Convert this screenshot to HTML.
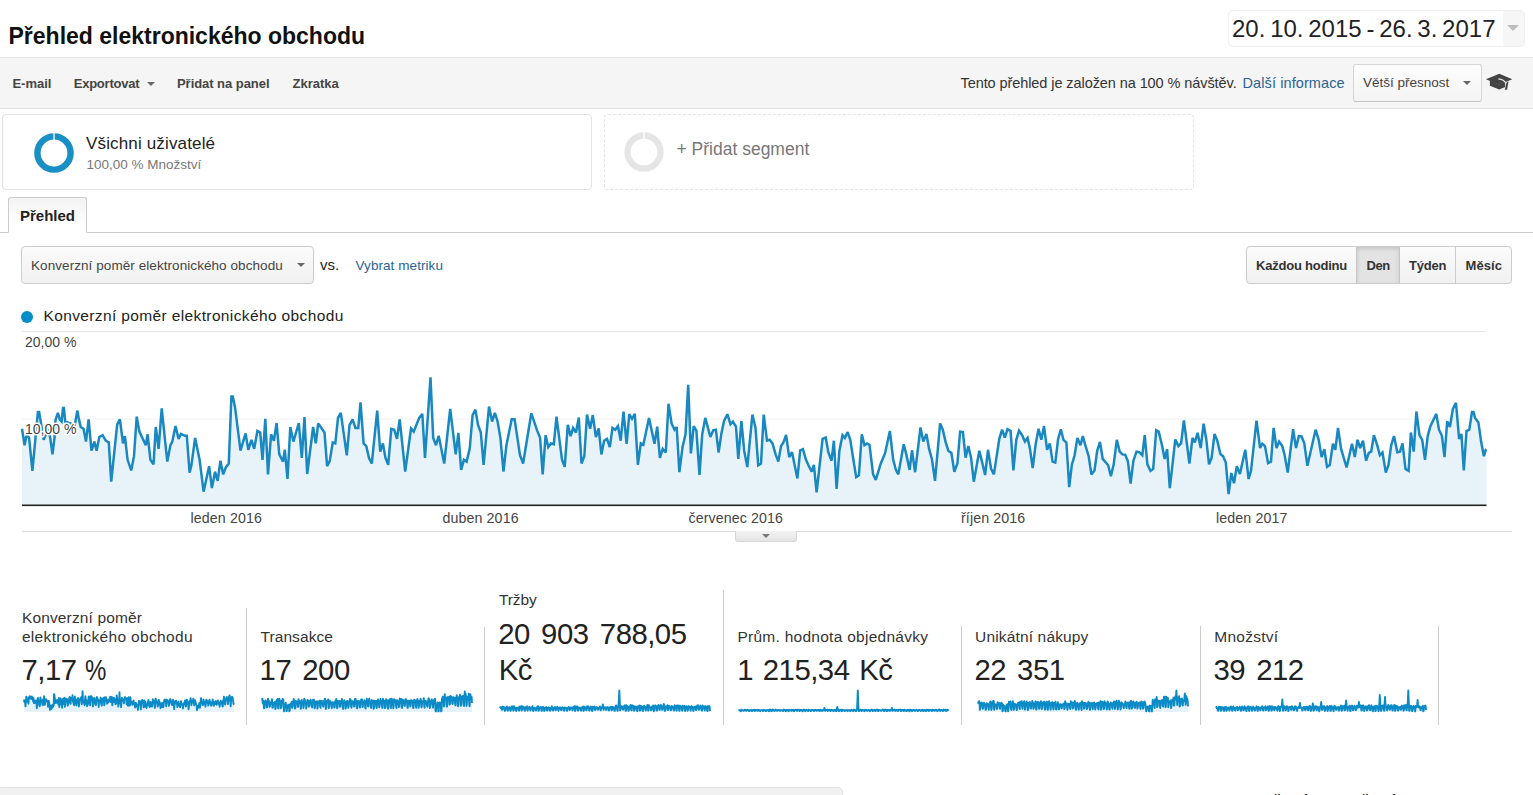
<!DOCTYPE html>
<html lang="cs">
<head>
<meta charset="utf-8">
<title>Přehled elektronického obchodu</title>
<style>
*{box-sizing:border-box;margin:0;padding:0}
html,body{width:1533px;height:795px;overflow:hidden;background:#fff}
body{font-family:"Liberation Sans",sans-serif;color:#222;position:relative;-webkit-font-smoothing:antialiased}
.a{position:absolute;white-space:nowrap;line-height:1}
.b{font-weight:bold}
#title{left:8.5px;top:24.8px;font-size:23px;font-weight:bold;color:#111;letter-spacing:0}
#datebox{left:1228px;top:10px;width:297px;height:37px;border:1px solid #efefef;border-radius:5px;background:#fff}
#datearrowbg{left:1503px;top:11px;width:21px;height:35px;background:#f6f6f6;border-radius:0 4px 4px 0}
#date{left:1232px;top:16.6px;font-size:24px;color:#222;letter-spacing:0;word-spacing:-1.9px}
#datearrow{left:1507px;top:25px;width:0;height:0;border-left:6.5px solid transparent;border-right:6.5px solid transparent;border-top:6.5px solid #bdbdbd}
#hline{left:0;top:57px;width:1533px;height:1px;background:#e5e5e5}
#toolbar{left:0;top:58px;width:1533px;height:51px;background:#f5f5f5;border-bottom:1px solid #e2e2e2}
.tb{font-size:13px;font-weight:bold;color:#444;top:76.8px}
#tinfo{left:960.5px;top:75.5px;font-size:14.5px;color:#333;letter-spacing:-0.08px}
#tlink{left:1242.5px;top:75.5px;font-size:14.5px;color:#2a6496;letter-spacing:0.1px}
#prec{left:1353px;top:64px;width:129px;height:38px;border:1px solid #d6d6d6;border-bottom-color:#c4c4c4;border-radius:3px;background:linear-gradient(#fdfdfd,#f4f4f4)}
#prect{left:1363px;top:76.4px;font-size:13.5px;color:#444}
.caret{width:0;height:0;border-left:4.5px solid transparent;border-right:4.5px solid transparent;border-top:4.5px solid #666}
#seg1{left:2px;top:114px;width:590px;height:76px;border:1px solid #e2e2e2;border-radius:4px;background:#fff}
#seg2{left:604px;top:114px;width:590px;height:76px;border:1px dashed #e4e4e4;border-radius:4px;background:#fff}
#s1a{left:86px;top:135.1px;font-size:17px;color:#222;letter-spacing:0.15px}
#s1b{left:86.5px;top:157.6px;font-size:13.5px;color:#777}
#s2a{left:676.5px;top:141.2px;font-size:17.5px;color:#777}
#tabline{left:0;top:232px;width:1533px;height:1px;background:#ccc}
#tab{left:8px;top:197px;width:79px;height:36px;border:1px solid #ccc;border-bottom:1px solid #fff;border-radius:3px 3px 0 0;background:linear-gradient(#f3f3f3,#fff 80%)}
#tabt{left:20px;top:207.9px;font-size:15px;font-weight:bold;color:#222}
#dd{left:21px;top:246px;width:293px;height:38px;border:1px solid #ccc;border-radius:4px;background:linear-gradient(#fbfbfb,#f1f1f1)}
#ddt{left:31px;top:258.8px;font-size:13.5px;color:#444;letter-spacing:0.07px}
#vs{left:320px;top:256.9px;font-size:15px;color:#222}
#vm{left:355.5px;top:258.8px;font-size:13.5px;color:#2a6496;letter-spacing:0.07px}
#bg{left:1246px;top:246px;width:266px;height:38px;border:1px solid #ccc;border-radius:4px;background:linear-gradient(#fbfbfb,#f1f1f1)}
#bgden{left:1356px;top:247px;width:44px;height:36px;background:#e3e3e3;border-left:1px solid #c6c6c6;border-right:1px solid #c6c6c6;box-shadow:inset 0 2px 4px rgba(0,0,0,.13)}
#bgs2{left:1455px;top:247px;width:1px;height:36px;background:#ccc}
.bt{font-size:13px;font-weight:bold;color:#333;top:259.3px}
#legdot{left:21px;top:310.5px;width:12px;height:12px;border-radius:50%;background:#058dc7}
#legt{left:43.5px;top:307.6px;font-size:15.5px;color:#222;letter-spacing:0.37px}
.yl{font-size:14px;color:#444;letter-spacing:0.05px;text-shadow:0 0 2px #fff,0 0 2px #fff,0 0 3px #fff,1px 1px 1px #fff,-1px -1px 1px #fff}
.xl{font-size:14.2px;color:#444;top:510.8px;letter-spacing:0.12px}
#chart{left:0;top:300px}
#botline{left:22px;top:531px;width:1490px;height:1px;background:#ddd}
#handle{left:735px;top:531px;width:62px;height:11px;background:linear-gradient(#f4f4f4,#e4e4e4);border:1px solid #d8d8d8;border-top:none;border-radius:0 0 3px 3px}
.ml{font-size:15.5px;color:#333}
.mv{font-size:29.3px;color:#222}
.pc{display:inline-block;transform:scaleX(.82);transform-origin:0 50%}
.ms{width:1px;background:#ccc}
#botbox{left:-3px;top:787px;width:845.7px;height:24px;background:#f1f1f1;border:1px solid #e1e1e1;border-radius:5px}
.q{font-size:15px;font-weight:bold;color:#222;top:791.6px}
</style>
</head>
<body>
<div class="a" id="title">Přehled elektronického obchodu</div>
<div class="a" id="datebox"></div><div class="a" id="datearrowbg"></div>
<div class="a" id="date">20. 10. 2015 - 26. 3. 2017</div>
<div class="a" id="datearrow"></div>
<div class="a" id="hline"></div>
<div class="a" id="toolbar"></div>
<div class="a tb" id="t1" style="left:12.4px">E-mail</div>
<div class="a tb" id="t2" style="left:73.7px;letter-spacing:-0.22px">Exportovat</div>
<div class="a caret" id="t2c" style="left:146.5px;top:81.5px"></div>
<div class="a tb" id="t3" style="left:177px;letter-spacing:-0.05px">Přidat na panel</div>
<div class="a tb" id="t4" style="left:292.5px">Zkratka</div>
<div class="a" id="tinfo">Tento přehled je založen na 100 % návštěv.</div>
<div class="a" id="tlink">Další informace</div>
<div class="a" id="prec"></div>
<div class="a" id="prect">Větší přesnost</div>
<div class="a caret" id="precc" style="left:1463px;top:81px"></div>
<svg class="a" id="cap" style="left:1484.9px;top:72.14px" width="28.52" height="18.81" viewBox="740 200 470 310"><path d="M755 320 L975 228 L1190 320 L975 412 Z" fill="#444"/><path d="M820 335 L820 428 L975 488 L1072 448 L1072 360 L975 405 Z" fill="#444"/><path d="M960 312 Q1050 320 1092 392" stroke="#e8e8e8" stroke-width="20" fill="none"/><path d="M1096 372 L1128 352 L1104 492 L1066 492 Z" fill="#444"/></svg>
<div class="a" id="seg1"></div>
<div class="a" id="seg2"></div>
<svg class="a" id="c1" style="left:31.5px;top:130.6px" width="44" height="44" viewBox="0 0 44 44"><circle cx="22" cy="22" r="16.6" fill="none" stroke="#1a8fc5" stroke-width="6.4"/><rect x="21.4" y="1" width="1.3" height="9" fill="#fff"/></svg>
<svg class="a" id="c2" style="left:622.3px;top:130.1px" width="44" height="44" viewBox="0 0 44 44"><circle cx="22" cy="22" r="16.5" fill="none" stroke="#e5e5e5" stroke-width="6.3"/><rect x="21.4" y="1" width="1.3" height="9" fill="#fff"/></svg>
<div class="a" id="s1a">Všichni uživatelé</div>
<div class="a" id="s1b">100,00 % Množství</div>
<div class="a" id="s2a">+ Přidat segment</div>
<div class="a" id="tabline"></div>
<div class="a" id="tab"></div>
<div class="a" id="tabt">Přehled</div>
<div class="a" id="dd"></div>
<div class="a" id="ddt">Konverzní poměr elektronického obchodu</div>
<div class="a caret" id="ddc" style="left:296.5px;top:262.7px"></div>
<div class="a" id="vs">vs.</div>
<div class="a" id="vm">Vybrat metriku</div>
<div class="a" id="bg"></div><div class="a" id="bgden"></div><div class="a" id="bgs2"></div>
<div class="a bt" id="b1" style="left:1256px;letter-spacing:-0.22px">Každou hodinu</div>
<div class="a bt" id="b2" style="left:1366.5px;letter-spacing:-0.4px">Den</div>
<div class="a bt" id="b3" style="left:1409px;letter-spacing:-0.2px">Týden</div>
<div class="a bt" id="b4" style="left:1465.5px;letter-spacing:0.1px">Měsíc</div>
<div class="a" id="legdot"></div>
<div class="a" id="legt">Konverzní poměr elektronického obchodu</div>
<!--CHART0--><svg class="a" id="chart" style="left:0;top:325px" width="1533" height="190" viewBox="0 325 1533 190">
<rect x="22" y="331" width="1464.5" height="1" fill="#e6e6e6"/>
<rect x="22" y="418.5" width="1464.5" height="1" fill="#f1f1f1"/>
<path d="M22,428.8 24.6,445.2 26.7,434.3 29.1,437.9 32.4,470.8 35.5,437.9 37.9,412 39.1,412 40.4,419.7 43.7,439.8 45.5,435.2 47.4,428.8 50.1,437 52.5,454.4 54.6,437 55.6,419.7 57.9,412.8 59.8,419.7 61.6,421.5 63,407.9 63.9,407.9 65.2,421.5 74.7,425.2 77.4,410.6 78.7,417.9 80.7,427 83.5,428.8 86,441.6 88.6,419.3 91.5,450.7 94.4,441.6 96.6,450.7 99.3,437 102.6,435.2 105.7,440.7 108.8,442.5 111.2,481.7 117.2,424.3 119.9,419.3 123,443.4 124.9,436.1 127.6,459.8 131.2,470.4 134,456.2 136.7,416.6 139.4,431.6 145.8,445.2 147.6,434.3 150.4,459.8 153.5,464.4 155.8,427 158.6,448.9 161.7,408.4 167.3,461.6 170.4,445.2 172.3,441.6 175.5,426.1 178.6,438.9 181,433.9 185,435.8 186.8,435.8 189.6,472.6 191.4,465.3 195.1,437.9 199.6,459.8 203.6,491.7 209.1,466.2 211.9,488.1 215,471.7 217.7,480.8 220.4,460.7 223.2,474.4 225.9,467.1 228.8,463.5 231.4,396.4 232.8,396.4 235,406.9 240.5,450.7 245.6,433.4 248.3,449.8 251.4,439.8 254.2,448.9 257.4,431 260.2,432.5 262.5,459.8 265.3,418.8 268,474.4 271.1,434.3 273.9,440.7 276.6,423 279.3,454.4 283,461.6 284.8,449.8 287.5,479 290.3,427 293.4,441.6 298.8,423 301.8,458 304.5,417 307.2,474 313.1,427 315.8,443.4 318.2,423.4 324.5,432.5 327.1,466.2 329.8,460.7 332.7,442.5 335.3,443.4 338,417.9 340.8,412.8 346.8,455.3 349.5,425.2 352.6,419.3 355.4,427.9 358.3,427.9 360.5,402.4 363.6,443.4 366.3,446.1 369,458 371.8,463.5 377.2,410.6 380.2,451.6 382.9,443.4 385.5,458 388.2,464.9 391.3,428.8 394.2,429.7 397,438.9 399.7,419.3 405.2,471.7 411,428.5 413.7,431.6 419.2,417.9 422.3,413.9 425,458 430.5,377.4 433.2,437.9 436,445.2 438.7,435.8 444.2,463.5 450.2,408.8 455.7,454.4 458.4,432.8 461.1,469.9 463.9,459.8 466.6,461.6 469.7,448.9 472.6,415.1 475.4,409.7 478.1,425.2 480.8,432.5 483.6,464.9 489,406.6 492.1,421.5 494.9,412.8 497.6,421.5 500.4,437.9 503.5,471.7 506.4,445.2 511.7,419.3 514.6,419.3 520,455.3 523.1,463.5 531.3,413.3 537.2,430.6 540.1,437.9 542.7,474.4 545.6,435.2 548.3,447.1 551,443.4 553.8,444.3 556.5,416.6 562,459.8 564.7,466.8 567.8,424.8 570.6,436.1 573.1,427.9 576,432.5 578.8,417.5 581.5,463.5 584.3,456.2 587,414.6 590.1,428.8 592.8,415.1 595.9,437 598.7,428.5 601.4,454.4 604.1,440.7 607,438.9 609.8,447.1 612.5,427.9 615.3,429.7 618,426.1 620.7,440.7 623.5,411.5 626.6,443.8 629.3,414.2 632,418.8 634.8,413.9 637.9,464.9 640.8,443.4 643.3,444.9 649,417.9 654.5,443.8 657.2,426.6 659.9,458 662.7,448.9 665.8,452.5 668.5,403.7 671.6,423.4 674.5,429.7 676.7,427 679.4,472.2 682.5,447.1 685.5,434.3 688.2,384.7 690.9,453.4 693.7,426.1 696.4,430.6 699.5,475 702.2,434.3 705.3,417.9 710.4,437 713.2,430.3 715.9,429.7 718.6,452.5 721.4,433.4 724.1,420.6 727.4,414.2 730.5,424.3 732.9,421.5 736,426.6 738.3,458.9 741.4,421.2 744.2,450.7 747.3,467.1 752.4,414.6 755.5,427.9 758.2,465.3 761,463.5 763.7,414.6 767,440.7 769.7,439.8 772.5,443.4 775.6,454.4 778.3,461.6 781,446.1 783.4,442.5 786.1,434.8 789.2,457.1 792,452.2 797.4,478.4 800.2,450.3 802.9,449.2 806,459.8 808.9,466.2 811.7,471.7 813.9,464.9 816.6,492.3 822.6,438.9 825.7,437.6 828.4,452.5 831.5,460.7 833.9,440.7 836.6,489 839.4,450.7 842.5,435.2 844.9,437.9 847.6,432.1 850.3,439.8 853.1,458 856.2,477.1 858.9,475.3 861.8,434.3 864.5,445.2 867.1,443.4 869.5,444.9 873.1,474.4 875.8,479.9 880.8,463.5 885,453.4 889.9,431 893.2,459.8 895.9,469.9 898.3,474.4 903.7,444.3 906.3,454.4 909.6,469.9 912,450.3 915.1,472.2 920.5,427.5 923.3,441.6 926.4,433.9 929.1,448.9 931.9,458.9 935,480.8 940.1,423.4 942.8,429.7 945.5,441.6 948.3,450.7 951.4,452.9 954.3,471.7 957.4,463.5 960.1,431.6 962.9,432.1 965.6,457.6 968.3,446.1 971.1,458 973.8,481.7 979.3,450.7 982,461.6 985.1,475 988,449.8 991.1,468.9 993.9,474.4 999.3,438.9 1002.1,429.7 1004.8,437.6 1007.5,429.2 1010.6,431 1013.4,470.4 1016.3,439.8 1019,430.6 1022.1,435.2 1024.9,441.6 1027.6,437.9 1030,448.9 1032.7,468 1035.8,443.4 1038.5,428.8 1041.3,439.8 1044,426.1 1047.1,449.8 1049.8,443.4 1052.6,461.6 1055.3,462.6 1058,439.8 1060.8,429.2 1063.5,439.8 1066.4,442.5 1069.2,487.2 1071.9,464.4 1074.6,455.3 1077.4,437.9 1080.5,445.2 1082.8,436.1 1085.9,447.1 1088.7,456.2 1091.4,474.4 1094.5,470.4 1097.2,450.7 1100,442 1102.7,458.9 1108.2,465.3 1110.9,476.2 1113.7,464.4 1116.8,439.8 1119.7,451.6 1122.4,454.4 1125.2,454.7 1127.9,461.3 1130.6,483.5 1133.4,460.7 1136.5,451.6 1139.2,452.2 1142.3,455.3 1144.7,435.2 1147.4,464.4 1150.5,470.8 1153.2,468.9 1156.2,430.3 1158.7,431.6 1162,445.2 1164.7,458.9 1167.1,449.2 1169.8,488.1 1175.3,439.4 1178.4,446.1 1181.1,443.4 1183.9,420.3 1189.4,463.5 1192.5,437.9 1194.8,442.5 1197.6,432.8 1200.7,448 1203.6,423.7 1206.3,439.4 1209,464.4 1211.6,458 1214.5,433.9 1217.3,440.7 1220.4,454 1223.1,456.2 1225.8,462.6 1228.6,494.1 1231.3,473 1234,483.2 1236.8,466.2 1239.9,474 1245.3,449.8 1248.6,479 1251,470.8 1256.5,420.6 1260.1,448 1262.3,443.8 1265,446.1 1268.1,463.1 1271,461.6 1273.6,427.9 1276.5,448 1279.1,441.6 1282.3,446.1 1284.5,454.4 1287.7,472.6 1293.1,429.2 1296,448 1298.8,436.1 1301.5,436.5 1304.3,443.4 1307.4,465.8 1315.6,429.7 1318.7,439.8 1321.6,457.1 1324.3,449.2 1327,466.8 1329.8,464.9 1332.9,443.8 1335.3,449.8 1338,427.9 1341.1,448.9 1346.6,467.5 1352,443.8 1354.8,457.1 1357.5,439.8 1360.2,448 1363,440.7 1366.1,460.7 1368.8,452.9 1371.2,451.6 1373.9,435.2 1377.2,445.2 1379.9,455.3 1382.5,452.5 1385.8,472.6 1388.5,464.9 1391.2,445.2 1394,436.1 1397.3,452.2 1400,451.6 1402.5,443.4 1405.5,468.9 1408.6,470.8 1410.9,432.5 1413.7,451.6 1416.4,411.5 1419.5,435.2 1422.2,439.8 1425,459.8 1427.7,436.1 1430.4,426.1 1436.3,413.9 1439,429.7 1441.9,435.8 1444.5,457.1 1447.2,421.2 1449.9,427 1452.9,408.8 1456,402.9 1459.1,438.9 1461.4,433.9 1463.8,470.4 1466.5,431 1469.3,429.7 1472,412 1473.5,412 1475.1,417.9 1478.4,422.4 1481.1,441.6 1483.9,456.2 1485.7,449.8 1486.5,449.4 L1486.5,505 L22,505 Z" fill="#e8f3f9" stroke="none"/>
<path d="M22,428.8 24.6,445.2 26.7,434.3 29.1,437.9 32.4,470.8 35.5,437.9 37.9,412 39.1,412 40.4,419.7 43.7,439.8 45.5,435.2 47.4,428.8 50.1,437 52.5,454.4 54.6,437 55.6,419.7 57.9,412.8 59.8,419.7 61.6,421.5 63,407.9 63.9,407.9 65.2,421.5 74.7,425.2 77.4,410.6 78.7,417.9 80.7,427 83.5,428.8 86,441.6 88.6,419.3 91.5,450.7 94.4,441.6 96.6,450.7 99.3,437 102.6,435.2 105.7,440.7 108.8,442.5 111.2,481.7 117.2,424.3 119.9,419.3 123,443.4 124.9,436.1 127.6,459.8 131.2,470.4 134,456.2 136.7,416.6 139.4,431.6 145.8,445.2 147.6,434.3 150.4,459.8 153.5,464.4 155.8,427 158.6,448.9 161.7,408.4 167.3,461.6 170.4,445.2 172.3,441.6 175.5,426.1 178.6,438.9 181,433.9 185,435.8 186.8,435.8 189.6,472.6 191.4,465.3 195.1,437.9 199.6,459.8 203.6,491.7 209.1,466.2 211.9,488.1 215,471.7 217.7,480.8 220.4,460.7 223.2,474.4 225.9,467.1 228.8,463.5 231.4,396.4 232.8,396.4 235,406.9 240.5,450.7 245.6,433.4 248.3,449.8 251.4,439.8 254.2,448.9 257.4,431 260.2,432.5 262.5,459.8 265.3,418.8 268,474.4 271.1,434.3 273.9,440.7 276.6,423 279.3,454.4 283,461.6 284.8,449.8 287.5,479 290.3,427 293.4,441.6 298.8,423 301.8,458 304.5,417 307.2,474 313.1,427 315.8,443.4 318.2,423.4 324.5,432.5 327.1,466.2 329.8,460.7 332.7,442.5 335.3,443.4 338,417.9 340.8,412.8 346.8,455.3 349.5,425.2 352.6,419.3 355.4,427.9 358.3,427.9 360.5,402.4 363.6,443.4 366.3,446.1 369,458 371.8,463.5 377.2,410.6 380.2,451.6 382.9,443.4 385.5,458 388.2,464.9 391.3,428.8 394.2,429.7 397,438.9 399.7,419.3 405.2,471.7 411,428.5 413.7,431.6 419.2,417.9 422.3,413.9 425,458 430.5,377.4 433.2,437.9 436,445.2 438.7,435.8 444.2,463.5 450.2,408.8 455.7,454.4 458.4,432.8 461.1,469.9 463.9,459.8 466.6,461.6 469.7,448.9 472.6,415.1 475.4,409.7 478.1,425.2 480.8,432.5 483.6,464.9 489,406.6 492.1,421.5 494.9,412.8 497.6,421.5 500.4,437.9 503.5,471.7 506.4,445.2 511.7,419.3 514.6,419.3 520,455.3 523.1,463.5 531.3,413.3 537.2,430.6 540.1,437.9 542.7,474.4 545.6,435.2 548.3,447.1 551,443.4 553.8,444.3 556.5,416.6 562,459.8 564.7,466.8 567.8,424.8 570.6,436.1 573.1,427.9 576,432.5 578.8,417.5 581.5,463.5 584.3,456.2 587,414.6 590.1,428.8 592.8,415.1 595.9,437 598.7,428.5 601.4,454.4 604.1,440.7 607,438.9 609.8,447.1 612.5,427.9 615.3,429.7 618,426.1 620.7,440.7 623.5,411.5 626.6,443.8 629.3,414.2 632,418.8 634.8,413.9 637.9,464.9 640.8,443.4 643.3,444.9 649,417.9 654.5,443.8 657.2,426.6 659.9,458 662.7,448.9 665.8,452.5 668.5,403.7 671.6,423.4 674.5,429.7 676.7,427 679.4,472.2 682.5,447.1 685.5,434.3 688.2,384.7 690.9,453.4 693.7,426.1 696.4,430.6 699.5,475 702.2,434.3 705.3,417.9 710.4,437 713.2,430.3 715.9,429.7 718.6,452.5 721.4,433.4 724.1,420.6 727.4,414.2 730.5,424.3 732.9,421.5 736,426.6 738.3,458.9 741.4,421.2 744.2,450.7 747.3,467.1 752.4,414.6 755.5,427.9 758.2,465.3 761,463.5 763.7,414.6 767,440.7 769.7,439.8 772.5,443.4 775.6,454.4 778.3,461.6 781,446.1 783.4,442.5 786.1,434.8 789.2,457.1 792,452.2 797.4,478.4 800.2,450.3 802.9,449.2 806,459.8 808.9,466.2 811.7,471.7 813.9,464.9 816.6,492.3 822.6,438.9 825.7,437.6 828.4,452.5 831.5,460.7 833.9,440.7 836.6,489 839.4,450.7 842.5,435.2 844.9,437.9 847.6,432.1 850.3,439.8 853.1,458 856.2,477.1 858.9,475.3 861.8,434.3 864.5,445.2 867.1,443.4 869.5,444.9 873.1,474.4 875.8,479.9 880.8,463.5 885,453.4 889.9,431 893.2,459.8 895.9,469.9 898.3,474.4 903.7,444.3 906.3,454.4 909.6,469.9 912,450.3 915.1,472.2 920.5,427.5 923.3,441.6 926.4,433.9 929.1,448.9 931.9,458.9 935,480.8 940.1,423.4 942.8,429.7 945.5,441.6 948.3,450.7 951.4,452.9 954.3,471.7 957.4,463.5 960.1,431.6 962.9,432.1 965.6,457.6 968.3,446.1 971.1,458 973.8,481.7 979.3,450.7 982,461.6 985.1,475 988,449.8 991.1,468.9 993.9,474.4 999.3,438.9 1002.1,429.7 1004.8,437.6 1007.5,429.2 1010.6,431 1013.4,470.4 1016.3,439.8 1019,430.6 1022.1,435.2 1024.9,441.6 1027.6,437.9 1030,448.9 1032.7,468 1035.8,443.4 1038.5,428.8 1041.3,439.8 1044,426.1 1047.1,449.8 1049.8,443.4 1052.6,461.6 1055.3,462.6 1058,439.8 1060.8,429.2 1063.5,439.8 1066.4,442.5 1069.2,487.2 1071.9,464.4 1074.6,455.3 1077.4,437.9 1080.5,445.2 1082.8,436.1 1085.9,447.1 1088.7,456.2 1091.4,474.4 1094.5,470.4 1097.2,450.7 1100,442 1102.7,458.9 1108.2,465.3 1110.9,476.2 1113.7,464.4 1116.8,439.8 1119.7,451.6 1122.4,454.4 1125.2,454.7 1127.9,461.3 1130.6,483.5 1133.4,460.7 1136.5,451.6 1139.2,452.2 1142.3,455.3 1144.7,435.2 1147.4,464.4 1150.5,470.8 1153.2,468.9 1156.2,430.3 1158.7,431.6 1162,445.2 1164.7,458.9 1167.1,449.2 1169.8,488.1 1175.3,439.4 1178.4,446.1 1181.1,443.4 1183.9,420.3 1189.4,463.5 1192.5,437.9 1194.8,442.5 1197.6,432.8 1200.7,448 1203.6,423.7 1206.3,439.4 1209,464.4 1211.6,458 1214.5,433.9 1217.3,440.7 1220.4,454 1223.1,456.2 1225.8,462.6 1228.6,494.1 1231.3,473 1234,483.2 1236.8,466.2 1239.9,474 1245.3,449.8 1248.6,479 1251,470.8 1256.5,420.6 1260.1,448 1262.3,443.8 1265,446.1 1268.1,463.1 1271,461.6 1273.6,427.9 1276.5,448 1279.1,441.6 1282.3,446.1 1284.5,454.4 1287.7,472.6 1293.1,429.2 1296,448 1298.8,436.1 1301.5,436.5 1304.3,443.4 1307.4,465.8 1315.6,429.7 1318.7,439.8 1321.6,457.1 1324.3,449.2 1327,466.8 1329.8,464.9 1332.9,443.8 1335.3,449.8 1338,427.9 1341.1,448.9 1346.6,467.5 1352,443.8 1354.8,457.1 1357.5,439.8 1360.2,448 1363,440.7 1366.1,460.7 1368.8,452.9 1371.2,451.6 1373.9,435.2 1377.2,445.2 1379.9,455.3 1382.5,452.5 1385.8,472.6 1388.5,464.9 1391.2,445.2 1394,436.1 1397.3,452.2 1400,451.6 1402.5,443.4 1405.5,468.9 1408.6,470.8 1410.9,432.5 1413.7,451.6 1416.4,411.5 1419.5,435.2 1422.2,439.8 1425,459.8 1427.7,436.1 1430.4,426.1 1436.3,413.9 1439,429.7 1441.9,435.8 1444.5,457.1 1447.2,421.2 1449.9,427 1452.9,408.8 1456,402.9 1459.1,438.9 1461.4,433.9 1463.8,470.4 1466.5,431 1469.3,429.7 1472,412 1473.5,412 1475.1,417.9 1478.4,422.4 1481.1,441.6 1483.9,456.2 1485.7,449.8 1486.5,449.4" fill="none" stroke="#1a88c0" stroke-width="2.5" stroke-linejoin="miter" stroke-miterlimit="2.5"/>
<rect x="22" y="504.5" width="1464.5" height="1.6" fill="#222"/>
<g font-family="Liberation Sans, sans-serif" font-size="14" fill="#444" stroke="#fff" stroke-width="3.2" stroke-linejoin="round" paint-order="stroke" style="paint-order:stroke">
<text x="25" y="346.9">20,00 %</text><text x="25" y="433.6">10,00 %</text></g>
</svg><!--CHART1-->
<div class="a xl" id="x1" style="left:190.5px">leden 2016</div>
<div class="a xl" id="x2" style="left:442.5px">duben 2016</div>
<div class="a xl" id="x3" style="left:688.5px">červenec 2016</div>
<div class="a xl" id="x4" style="left:961px">říjen 2016</div>
<div class="a xl" id="x5" style="left:1216px">leden 2017</div>
<div class="a" id="botline"></div>
<div class="a" id="handle"></div>
<div class="a caret" id="hc" style="left:762px;top:534px;border-top-color:#777"></div>
<!--M0--><div class="a mv" id="mv0_0" style="left:21.5px;top:655.2px;word-spacing:0.5px;letter-spacing:-0.5px">7,17 <span class=pc>%</span></div>
<div class="a ml" id="ml0_0" style="left:21.9px;top:629.1px;letter-spacing:0.33px">elektronického obchodu</div>
<div class="a ml" id="ml0_1" style="left:21.9px;top:609.5px;letter-spacing:0.15px">Konverzní poměr</div>
<div class="a ms" style="left:246px;top:608px;height:117px"></div>
<div class="a mv" id="mv1_0" style="left:259.6px;top:655.2px;word-spacing:3.5px;letter-spacing:-0.5px">17 200</div>
<div class="a ml" id="ml1_0" style="left:260.5px;top:629.1px;letter-spacing:0.08px">Transakce</div>
<div class="a ms" style="left:484px;top:627px;height:98px"></div>
<div class="a mv" id="mv2_0" style="left:498.7px;top:655.2px;word-spacing:0.5px;letter-spacing:-0.5px">Kč</div>
<div class="a mv" id="mv2_1" style="left:498.2px;top:618.9px;word-spacing:3.7px;letter-spacing:-0.5px">20 903 788,05</div>
<div class="a ml" id="ml2_0" style="left:499px;top:591.5px;letter-spacing:-0.12px">Tržby</div>
<div class="a ms" style="left:723px;top:590px;height:135px"></div>
<div class="a mv" id="mv3_0" style="left:737.2px;top:655.2px;word-spacing:2.2px;letter-spacing:-0.5px">1 215,34 Kč</div>
<div class="a ml" id="ml3_0" style="left:737.4px;top:629.1px;letter-spacing:0.27px">Prům. hodnota objednávky</div>
<div class="a ms" style="left:961px;top:626px;height:99px"></div>
<div class="a mv" id="mv4_0" style="left:974.4px;top:655.2px;word-spacing:3.5px;letter-spacing:-0.5px">22 351</div>
<div class="a ml" id="ml4_0" style="left:975.1px;top:629.1px;letter-spacing:0.15px">Unikátní nákupy</div>
<div class="a ms" style="left:1200px;top:626px;height:99px"></div>
<div class="a mv" id="mv5_0" style="left:1213.5px;top:655.2px;word-spacing:3.5px;letter-spacing:-0.5px">39 212</div>
<div class="a ml" id="ml5_0" style="left:1214.3px;top:629.1px;letter-spacing:0.25px">Množství</div>
<div class="a ms" style="left:1438px;top:626px;height:99px"></div>
<svg class="a" id="sparks" style="left:0;top:686px" width="1533" height="30" viewBox="0 686 1533 30"><path d="M23.9,699.5 24.4,702.2 24.7,700.4 25.0,701.0 25.5,706.4 25.9,701.0 26.3,696.7 26.5,696.7 26.6,698.0 27.1,701.3 27.4,700.5 27.6,699.5 28.0,700.8 28.4,703.7 28.7,700.8 28.8,698.0 29.2,696.9 29.4,698.0 29.7,698.3 29.9,696.1 30.0,696.1 30.2,698.3 31.6,698.9 31.9,696.5 32.1,697.7 32.4,699.2 32.8,699.5 33.2,701.6 33.5,697.9 34.0,703.1 34.4,701.6 34.7,703.1 35.1,700.8 35.6,700.5 36.0,701.4 36.4,701.7 36.8,708.2 37.6,698.8 38.0,697.9 38.5,701.9 38.7,700.7 39.1,704.6 39.7,706.3 40.1,704.0 40.4,697.5 40.8,700.0 41.8,702.2 42.0,700.4 42.4,704.6 42.9,705.3 43.2,699.2 43.6,702.8 44.0,696.2 44.8,704.9 45.3,702.2 45.5,701.6 46.0,699.1 46.5,701.1 46.8,700.3 47.4,700.6 47.6,700.6 48.0,706.7 48.3,705.5 48.8,701.0 49.5,704.6 50.0,709.8 50.8,705.6 51.2,709.2 51.7,706.5 52.1,708.0 52.5,704.7 52.8,707.0 53.2,705.8 53.7,705.2 54.0,694.2 54.2,694.2 54.5,695.9 55.3,703.1 56.1,700.2 56.5,702.9 56.9,701.3 57.3,702.8 57.8,699.9 58.2,700.1 58.5,704.6 58.9,697.9 59.3,707.0 59.7,700.4 60.1,701.4 60.5,698.5 60.9,703.7 61.4,704.9 61.7,702.9 62.1,707.7 62.5,699.2 62.9,701.6 63.7,698.5 64.1,704.3 64.5,697.6 64.9,706.9 65.7,699.2 66.1,701.9 66.5,698.6 67.4,700.1 67.7,705.6 68.1,704.7 68.6,701.7 68.9,701.9 69.3,697.7 69.7,696.9 70.6,703.8 71.0,698.9 71.4,697.9 71.8,699.4 72.2,699.4 72.5,695.2 73.0,701.9 73.4,702.3 73.8,704.3 74.2,705.2 74.9,696.5 75.4,703.2 75.8,701.9 76.1,704.3 76.5,705.4 77.0,699.5 77.4,699.7 77.8,701.1 78.2,697.9 78.9,706.5 79.8,699.4 80.2,700.0 81.0,697.7 81.4,697.0 81.8,704.3 82.6,691.1 83.0,701.0 83.4,702.2 83.8,700.6 84.5,705.2 85.4,696.2 86.2,703.7 86.6,700.2 87.0,706.2 87.4,704.6 87.8,704.9 88.2,702.8 88.6,697.3 89.0,696.4 89.4,698.9 89.8,700.1 90.2,705.4 91.0,695.9 91.4,698.3 91.8,696.9 92.2,698.3 92.6,701.0 93.0,706.5 93.5,702.2 94.2,697.9 94.6,697.9 95.4,703.8 95.9,705.2 97.0,697.0 97.9,699.8 98.3,701.0 98.7,707.0 99.1,700.5 99.5,702.5 99.9,701.9 100.3,702.0 100.6,697.5 101.4,704.6 101.8,705.7 102.3,698.8 102.7,700.7 103.0,699.4 103.4,700.1 103.8,697.6 104.2,705.2 104.6,704.0 105.0,697.2 105.5,699.5 105.9,697.3 106.3,700.8 106.7,699.4 107.1,703.7 107.5,701.4 107.9,701.1 108.3,702.5 108.7,699.4 109.1,699.7 109.5,699.1 109.9,701.4 110.2,696.7 110.7,702.0 111.1,697.1 111.5,697.9 111.9,697.0 112.3,705.4 112.7,701.9 113.1,702.1 113.9,697.7 114.7,702.0 115.1,699.1 115.5,704.3 115.9,702.8 116.3,703.4 116.7,695.4 117.1,698.6 117.6,699.7 117.9,699.2 118.3,706.6 118.7,702.5 119.1,700.4 119.5,692.3 119.9,703.5 120.3,699.1 120.7,699.8 121.1,707.1 121.5,700.4 122.0,697.7 122.7,700.8 123.1,699.7 123.5,699.7 123.9,703.4 124.3,700.2 124.7,698.2 125.1,697.1 125.6,698.8 125.9,698.3 126.4,699.1 126.7,704.4 127.2,698.2 127.6,703.1 128.0,705.8 128.7,697.2 129.2,699.4 129.6,705.5 130.0,705.2 130.4,697.2 130.8,701.4 131.2,701.3 131.6,701.9 132.1,703.7 132.4,704.9 132.8,702.3 133.2,701.7 133.6,700.5 134.0,704.1 134.4,703.3 135.2,707.6 135.6,703.0 136.0,702.9 136.4,704.6 136.8,705.6 137.2,706.5 137.5,705.4 137.9,709.9 138.8,701.1 139.2,700.9 139.6,703.4 140.1,704.7 140.4,701.4 140.8,709.4 141.2,703.1 141.7,700.5 142.0,701.0 142.4,700.0 142.8,701.3 143.2,704.3 143.6,707.4 144.0,707.1 144.4,700.4 144.8,702.2 145.2,701.9 145.5,702.1 146.0,707.0 146.4,707.9 147.1,705.2 147.7,703.5 148.4,699.9 148.9,704.6 149.3,706.2 149.7,707.0 150.4,702.0 150.8,703.7 151.3,706.2 151.6,703.0 152.1,706.6 152.8,699.3 153.2,701.6 153.7,700.3 154.1,702.8 154.5,704.4 154.9,708.0 155.6,698.6 156.0,699.7 156.4,701.6 156.8,703.1 157.3,703.5 157.7,706.5 158.1,705.2 158.5,700.0 158.9,700.0 159.3,704.2 159.7,702.3 160.1,704.3 160.5,708.2 161.3,703.1 161.7,704.9 162.1,707.1 162.5,702.9 163.0,706.1 163.4,707.0 164.1,701.1 164.5,699.7 164.9,700.9 165.3,699.6 165.8,699.9 166.2,706.3 166.6,701.3 167.0,699.8 167.4,700.5 167.8,701.6 168.2,701.0 168.5,702.8 168.9,705.9 169.4,701.9 169.8,699.5 170.2,701.3 170.5,699.1 171.0,702.9 171.4,701.9 171.8,704.9 172.2,705.0 172.6,701.3 173.0,699.6 173.3,701.3 173.8,701.7 174.2,709.1 174.5,705.3 174.9,703.8 175.3,701.0 175.8,702.2 176.1,700.7 176.6,702.5 177.0,704.0 177.3,707.0 177.8,706.3 178.2,703.1 178.6,701.7 179.0,704.4 179.8,705.5 180.1,707.3 180.5,705.3 181.0,701.3 181.4,703.2 181.8,703.7 182.2,703.8 182.6,704.8 183.0,708.5 183.4,704.7 183.8,703.2 184.2,703.3 184.6,703.8 185.0,700.5 185.4,705.3 185.8,706.4 186.2,706.1 186.6,699.7 187.0,700.0 187.5,702.2 187.9,704.4 188.2,702.9 188.6,709.2 189.4,701.2 189.8,702.3 190.2,701.9 190.6,698.1 191.4,705.2 191.8,701.0 192.2,701.7 192.6,700.2 193.0,702.6 193.4,698.7 193.8,701.2 194.2,705.3 194.6,704.3 195.0,700.3 195.4,701.4 195.8,703.6 196.2,704.0 196.6,705.0 197.0,710.2 197.4,706.7 197.8,708.4 198.2,705.6 198.6,706.9 199.4,702.9 199.9,707.7 200.2,706.4 201.0,698.2 201.5,702.6 201.8,702.0 202.2,702.3 202.7,705.1 203.1,704.9 203.5,699.4 203.9,702.6 204.3,701.6 204.7,702.3 205.0,703.7 205.5,706.7 206.3,699.6 206.7,702.6 207.1,700.7 207.5,700.8 207.9,701.9 208.3,705.6 209.5,699.7 209.9,701.3 210.4,704.1 210.7,702.9 211.1,705.7 211.5,705.4 212.0,702.0 212.3,702.9 212.7,699.4 213.1,702.8 213.9,705.8 214.7,702.0 215.1,704.1 215.5,701.3 215.9,702.6 216.3,701.4 216.7,704.7 217.1,703.5 217.5,703.2 217.9,700.5 218.3,702.2 218.7,703.8 219.1,703.4 219.6,706.7 219.9,705.4 220.3,702.2 220.7,700.7 221.2,703.3 221.6,703.2 222.0,701.9 222.4,706.1 222.8,706.4 223.2,700.1 223.6,703.2 223.9,696.7 224.4,700.5 224.8,701.3 225.2,704.6 225.6,700.7 226.0,699.1 226.8,697.0 227.2,699.7 227.6,700.6 228.0,704.1 228.4,698.2 228.8,699.2 229.2,696.2 229.6,695.3 230.1,701.1 230.4,700.3 230.7,706.3 231.1,699.9 231.5,699.7 231.9,696.7 232.1,696.7 232.4,697.7 232.8,698.5 233.2,701.6 233.6,704.0 233.9,702.9 234.0,702.9 L234.0,712.0 L23.9,712.0 Z" fill="#e6f2f9"/><path d="M23.9,699.5 24.4,702.2 24.7,700.4 25.0,701.0 25.5,706.4 25.9,701.0 26.3,696.7 26.5,696.7 26.6,698.0 27.1,701.3 27.4,700.5 27.6,699.5 28.0,700.8 28.4,703.7 28.7,700.8 28.8,698.0 29.2,696.9 29.4,698.0 29.7,698.3 29.9,696.1 30.0,696.1 30.2,698.3 31.6,698.9 31.9,696.5 32.1,697.7 32.4,699.2 32.8,699.5 33.2,701.6 33.5,697.9 34.0,703.1 34.4,701.6 34.7,703.1 35.1,700.8 35.6,700.5 36.0,701.4 36.4,701.7 36.8,708.2 37.6,698.8 38.0,697.9 38.5,701.9 38.7,700.7 39.1,704.6 39.7,706.3 40.1,704.0 40.4,697.5 40.8,700.0 41.8,702.2 42.0,700.4 42.4,704.6 42.9,705.3 43.2,699.2 43.6,702.8 44.0,696.2 44.8,704.9 45.3,702.2 45.5,701.6 46.0,699.1 46.5,701.1 46.8,700.3 47.4,700.6 47.6,700.6 48.0,706.7 48.3,705.5 48.8,701.0 49.5,704.6 50.0,709.8 50.8,705.6 51.2,709.2 51.7,706.5 52.1,708.0 52.5,704.7 52.8,707.0 53.2,705.8 53.7,705.2 54.0,694.2 54.2,694.2 54.5,695.9 55.3,703.1 56.1,700.2 56.5,702.9 56.9,701.3 57.3,702.8 57.8,699.9 58.2,700.1 58.5,704.6 58.9,697.9 59.3,707.0 59.7,700.4 60.1,701.4 60.5,698.5 60.9,703.7 61.4,704.9 61.7,702.9 62.1,707.7 62.5,699.2 62.9,701.6 63.7,698.5 64.1,704.3 64.5,697.6 64.9,706.9 65.7,699.2 66.1,701.9 66.5,698.6 67.4,700.1 67.7,705.6 68.1,704.7 68.6,701.7 68.9,701.9 69.3,697.7 69.7,696.9 70.6,703.8 71.0,698.9 71.4,697.9 71.8,699.4 72.2,699.4 72.5,695.2 73.0,701.9 73.4,702.3 73.8,704.3 74.2,705.2 74.9,696.5 75.4,703.2 75.8,701.9 76.1,704.3 76.5,705.4 77.0,699.5 77.4,699.7 77.8,701.1 78.2,697.9 78.9,706.5 79.8,699.4 80.2,700.0 81.0,697.7 81.4,697.0 81.8,704.3 82.6,691.1 83.0,701.0 83.4,702.2 83.8,700.6 84.5,705.2 85.4,696.2 86.2,703.7 86.6,700.2 87.0,706.2 87.4,704.6 87.8,704.9 88.2,702.8 88.6,697.3 89.0,696.4 89.4,698.9 89.8,700.1 90.2,705.4 91.0,695.9 91.4,698.3 91.8,696.9 92.2,698.3 92.6,701.0 93.0,706.5 93.5,702.2 94.2,697.9 94.6,697.9 95.4,703.8 95.9,705.2 97.0,697.0 97.9,699.8 98.3,701.0 98.7,707.0 99.1,700.5 99.5,702.5 99.9,701.9 100.3,702.0 100.6,697.5 101.4,704.6 101.8,705.7 102.3,698.8 102.7,700.7 103.0,699.4 103.4,700.1 103.8,697.6 104.2,705.2 104.6,704.0 105.0,697.2 105.5,699.5 105.9,697.3 106.3,700.8 106.7,699.4 107.1,703.7 107.5,701.4 107.9,701.1 108.3,702.5 108.7,699.4 109.1,699.7 109.5,699.1 109.9,701.4 110.2,696.7 110.7,702.0 111.1,697.1 111.5,697.9 111.9,697.0 112.3,705.4 112.7,701.9 113.1,702.1 113.9,697.7 114.7,702.0 115.1,699.1 115.5,704.3 115.9,702.8 116.3,703.4 116.7,695.4 117.1,698.6 117.6,699.7 117.9,699.2 118.3,706.6 118.7,702.5 119.1,700.4 119.5,692.3 119.9,703.5 120.3,699.1 120.7,699.8 121.1,707.1 121.5,700.4 122.0,697.7 122.7,700.8 123.1,699.7 123.5,699.7 123.9,703.4 124.3,700.2 124.7,698.2 125.1,697.1 125.6,698.8 125.9,698.3 126.4,699.1 126.7,704.4 127.2,698.2 127.6,703.1 128.0,705.8 128.7,697.2 129.2,699.4 129.6,705.5 130.0,705.2 130.4,697.2 130.8,701.4 131.2,701.3 131.6,701.9 132.1,703.7 132.4,704.9 132.8,702.3 133.2,701.7 133.6,700.5 134.0,704.1 134.4,703.3 135.2,707.6 135.6,703.0 136.0,702.9 136.4,704.6 136.8,705.6 137.2,706.5 137.5,705.4 137.9,709.9 138.8,701.1 139.2,700.9 139.6,703.4 140.1,704.7 140.4,701.4 140.8,709.4 141.2,703.1 141.7,700.5 142.0,701.0 142.4,700.0 142.8,701.3 143.2,704.3 143.6,707.4 144.0,707.1 144.4,700.4 144.8,702.2 145.2,701.9 145.5,702.1 146.0,707.0 146.4,707.9 147.1,705.2 147.7,703.5 148.4,699.9 148.9,704.6 149.3,706.2 149.7,707.0 150.4,702.0 150.8,703.7 151.3,706.2 151.6,703.0 152.1,706.6 152.8,699.3 153.2,701.6 153.7,700.3 154.1,702.8 154.5,704.4 154.9,708.0 155.6,698.6 156.0,699.7 156.4,701.6 156.8,703.1 157.3,703.5 157.7,706.5 158.1,705.2 158.5,700.0 158.9,700.0 159.3,704.2 159.7,702.3 160.1,704.3 160.5,708.2 161.3,703.1 161.7,704.9 162.1,707.1 162.5,702.9 163.0,706.1 163.4,707.0 164.1,701.1 164.5,699.7 164.9,700.9 165.3,699.6 165.8,699.9 166.2,706.3 166.6,701.3 167.0,699.8 167.4,700.5 167.8,701.6 168.2,701.0 168.5,702.8 168.9,705.9 169.4,701.9 169.8,699.5 170.2,701.3 170.5,699.1 171.0,702.9 171.4,701.9 171.8,704.9 172.2,705.0 172.6,701.3 173.0,699.6 173.3,701.3 173.8,701.7 174.2,709.1 174.5,705.3 174.9,703.8 175.3,701.0 175.8,702.2 176.1,700.7 176.6,702.5 177.0,704.0 177.3,707.0 177.8,706.3 178.2,703.1 178.6,701.7 179.0,704.4 179.8,705.5 180.1,707.3 180.5,705.3 181.0,701.3 181.4,703.2 181.8,703.7 182.2,703.8 182.6,704.8 183.0,708.5 183.4,704.7 183.8,703.2 184.2,703.3 184.6,703.8 185.0,700.5 185.4,705.3 185.8,706.4 186.2,706.1 186.6,699.7 187.0,700.0 187.5,702.2 187.9,704.4 188.2,702.9 188.6,709.2 189.4,701.2 189.8,702.3 190.2,701.9 190.6,698.1 191.4,705.2 191.8,701.0 192.2,701.7 192.6,700.2 193.0,702.6 193.4,698.7 193.8,701.2 194.2,705.3 194.6,704.3 195.0,700.3 195.4,701.4 195.8,703.6 196.2,704.0 196.6,705.0 197.0,710.2 197.4,706.7 197.8,708.4 198.2,705.6 198.6,706.9 199.4,702.9 199.9,707.7 200.2,706.4 201.0,698.2 201.5,702.6 201.8,702.0 202.2,702.3 202.7,705.1 203.1,704.9 203.5,699.4 203.9,702.6 204.3,701.6 204.7,702.3 205.0,703.7 205.5,706.7 206.3,699.6 206.7,702.6 207.1,700.7 207.5,700.8 207.9,701.9 208.3,705.6 209.5,699.7 209.9,701.3 210.4,704.1 210.7,702.9 211.1,705.7 211.5,705.4 212.0,702.0 212.3,702.9 212.7,699.4 213.1,702.8 213.9,705.8 214.7,702.0 215.1,704.1 215.5,701.3 215.9,702.6 216.3,701.4 216.7,704.7 217.1,703.5 217.5,703.2 217.9,700.5 218.3,702.2 218.7,703.8 219.1,703.4 219.6,706.7 219.9,705.4 220.3,702.2 220.7,700.7 221.2,703.3 221.6,703.2 222.0,701.9 222.4,706.1 222.8,706.4 223.2,700.1 223.6,703.2 223.9,696.7 224.4,700.5 224.8,701.3 225.2,704.6 225.6,700.7 226.0,699.1 226.8,697.0 227.2,699.7 227.6,700.6 228.0,704.1 228.4,698.2 228.8,699.2 229.2,696.2 229.6,695.3 230.1,701.1 230.4,700.3 230.7,706.3 231.1,699.9 231.5,699.7 231.9,696.7 232.1,696.7 232.4,697.7 232.8,698.5 233.2,701.6 233.6,704.0 233.9,702.9 234.0,702.9" fill="none" stroke="#0a8ac6" stroke-width="1.9" stroke-linejoin="round"/><path d="M262.0,700.8 262.4,698.8 262.8,703.3 263.2,702.9 263.6,701.1 264.0,708.2 264.4,708.1 264.8,701.8 265.2,701.8 265.6,700.4 266.0,701.9 266.4,702.5 266.8,707.4 267.2,707.3 267.6,701.5 268.0,698.6 268.4,700.8 268.8,700.7 269.2,702.2 269.6,706.9 270.0,706.2 270.4,703.2 270.8,702.2 271.2,701.8 271.6,702.4 272.0,699.1 272.4,707.6 272.8,707.7 273.2,702.8 273.6,703.2 274.0,702.6 274.4,702.6 274.8,702.1 275.3,709.0 275.7,708.1 276.1,702.4 276.5,701.0 276.9,699.6 277.3,701.4 277.7,699.0 278.1,708.3 278.5,708.4 278.9,702.5 279.3,698.7 279.7,700.8 280.1,702.5 280.5,701.4 280.9,708.2 281.3,707.5 281.7,700.8 282.1,702.1 282.5,699.0 282.9,702.1 283.3,699.4 283.7,707.2 284.1,711.4 284.5,704.7 284.9,704.8 285.3,705.6 285.7,702.7 286.1,705.2 286.5,711.2 286.9,710.5 287.3,705.5 287.7,705.2 288.1,706.2 288.5,704.6 288.9,705.7 289.3,711.4 289.7,710.7 290.1,704.5 290.5,703.7 290.9,705.8 291.3,704.6 291.7,701.7 292.1,707.8 292.5,707.0 292.9,702.3 293.3,702.1 293.7,698.9 294.1,701.7 294.5,702.9 294.9,708.5 295.3,708.2 295.7,700.9 296.1,702.4 296.5,701.4 296.9,703.0 297.3,701.7 297.7,706.9 298.1,706.8 298.5,699.2 298.9,703.2 299.3,700.8 299.7,701.1 300.1,702.1 300.5,706.7 300.9,708.7 301.3,702.3 301.8,699.9 302.2,703.4 302.6,701.6 303.0,703.0 303.4,708.1 303.8,706.4 304.2,698.8 304.6,703.4 305.0,699.9 305.4,703.4 305.8,702.1 306.2,708.5 306.6,706.6 307.0,703.0 307.4,700.0 307.8,702.4 308.2,703.1 308.6,700.7 309.0,706.6 309.4,706.2 309.8,701.7 310.2,701.8 310.6,699.8 311.0,703.2 311.4,701.7 311.8,706.2 312.2,707.4 312.6,701.3 313.0,699.8 313.4,701.0 313.8,699.7 314.2,701.1 314.6,708.2 315.0,707.5 315.4,702.2 315.8,701.6 316.2,701.8 316.6,703.2 317.0,701.2 317.4,708.6 317.8,706.5 318.2,701.8 318.6,701.4 319.0,702.0 319.4,702.6 319.8,700.8 320.2,706.9 320.6,707.9 321.0,701.3 321.4,703.4 321.8,700.7 322.2,703.1 322.6,703.0 323.0,706.2 323.4,706.6 323.8,703.2 324.2,700.3 324.6,702.1 325.0,698.7 325.4,700.9 325.8,709.0 326.2,706.8 326.6,701.2 327.0,702.8 327.4,700.5 327.9,701.7 328.3,699.5 328.7,708.2 329.1,706.9 329.5,702.3 329.9,700.8 330.3,703.5 330.7,703.1 331.1,702.3 331.5,706.5 331.9,708.2 332.3,702.2 332.7,703.2 333.1,702.4 333.5,702.8 333.9,702.3 334.3,707.6 334.7,707.5 335.1,702.6 335.5,700.3 335.9,702.9 336.3,699.0 336.7,700.8 337.1,708.2 337.5,707.4 337.9,700.9 338.3,701.9 338.7,703.0 339.1,702.3 339.5,700.8 339.9,706.7 340.3,706.4 340.7,701.2 341.1,701.6 341.5,702.0 341.9,699.0 342.3,701.8 342.7,707.0 343.1,709.0 343.5,701.5 343.9,703.4 344.3,700.1 344.7,703.2 345.1,701.8 345.5,708.5 345.9,708.1 346.3,703.4 346.7,701.2 347.1,702.3 347.5,701.0 347.9,702.9 348.3,707.8 348.7,706.4 349.1,701.9 349.5,702.4 349.9,698.9 350.3,703.3 350.7,699.7 351.1,706.7 351.5,707.8 351.9,702.4 352.3,701.1 352.7,701.4 353.1,701.4 353.5,703.1 354.0,706.5 354.4,706.4 354.8,699.3 355.2,701.7 355.6,698.8 356.0,701.5 356.4,703.2 356.8,708.0 357.2,708.4 357.6,701.5 358.0,700.9 358.4,702.5 358.8,701.1 359.2,701.2 359.6,706.9 360.0,707.6 360.4,701.0 360.8,700.8 361.2,699.5 361.6,700.9 362.0,699.4 362.4,707.0 362.8,706.8 363.2,702.1 363.6,702.1 364.0,702.3 364.4,700.1 364.8,700.9 365.2,707.8 365.6,708.5 366.0,702.8 366.4,702.5 366.8,698.6 367.2,703.1 367.6,701.3 368.0,706.3 368.4,706.4 368.8,701.0 369.2,698.6 369.6,701.6 370.0,702.6 370.4,702.6 370.8,706.8 371.2,708.0 371.6,700.0 372.0,702.2 372.4,700.8 372.8,703.1 373.2,700.7 373.6,708.8 374.0,708.2 374.4,703.1 374.8,700.8 375.2,701.4 375.6,702.0 376.0,700.9 376.4,707.3 376.8,708.0 377.2,701.3 377.6,700.6 378.0,699.5 378.4,701.7 378.8,702.5 379.2,707.3 379.6,706.1 380.0,701.7 380.5,699.0 380.9,702.8 381.3,700.7 381.7,702.0 382.1,707.1 382.5,708.0 382.9,698.7 383.3,701.3 383.7,700.9 384.1,700.6 384.5,701.5 384.9,708.1 385.3,707.8 385.7,701.1 386.1,699.1 386.5,702.6 386.9,700.1 387.3,702.1 387.7,707.8 388.1,708.7 388.5,700.1 388.9,703.2 389.3,700.8 389.7,701.2 390.1,698.9 390.5,707.7 390.9,708.2 391.3,703.2 391.7,698.6 392.1,701.1 392.5,700.1 392.9,700.6 393.3,708.4 393.7,706.1 394.1,699.1 394.5,701.0 394.9,702.0 395.3,701.1 395.7,700.2 396.1,706.3 396.5,708.1 396.9,702.7 397.3,700.1 397.7,701.9 398.1,701.7 398.5,701.5 398.9,707.1 399.3,706.3 399.7,698.4 400.1,702.9 400.5,702.9 400.9,701.7 401.3,699.0 401.7,707.6 402.1,707.9 402.5,701.7 402.9,699.7 403.3,702.1 403.7,701.6 404.1,701.6 404.5,705.8 404.9,705.9 405.3,699.3 405.7,702.5 406.1,699.3 406.6,700.8 407.0,700.9 407.4,707.6 407.8,707.9 408.2,700.6 408.6,702.2 409.0,702.5 409.4,701.0 409.8,701.7 410.2,706.5 410.6,705.7 411.0,700.1 411.4,700.2 411.8,701.0 412.2,701.4 412.6,700.9 413.0,706.9 413.4,708.1 413.8,702.1 414.2,699.7 414.6,701.6 415.0,700.2 415.4,700.3 415.8,705.8 416.2,707.9 416.6,701.3 417.0,701.1 417.4,699.0 417.8,701.0 418.2,700.8 418.6,707.9 419.0,705.8 419.4,701.1 419.8,700.8 420.2,701.4 420.6,698.7 421.0,700.6 421.4,707.3 421.8,706.4 422.2,701.5 422.6,701.5 423.0,701.5 423.4,702.0 423.8,698.1 424.2,705.8 424.6,707.8 425.0,701.7 425.4,700.9 425.8,701.9 426.2,702.2 426.6,701.5 427.0,705.9 427.4,706.7 427.8,701.2 428.2,700.2 428.6,698.2 429.0,701.5 429.4,699.5 429.8,708.1 430.2,706.3 430.6,702.5 431.0,701.4 431.4,702.2 431.8,699.3 432.2,701.7 432.7,706.4 433.1,707.6 433.5,701.4 433.9,700.4 434.3,699.5 434.7,701.6 435.1,698.6 435.5,710.8 435.9,711.4 436.3,704.6 436.7,704.6 437.1,705.3 437.5,702.5 437.9,705.1 438.3,711.4 438.7,711.4 439.1,702.6 439.5,705.1 439.9,702.4 440.3,706.4 440.7,704.1 441.1,711.4 441.5,710.9 441.9,698.6 442.3,698.7 442.7,696.6 443.1,697.7 443.5,698.3 443.9,706.5 444.3,704.0 444.7,694.1 445.1,699.5 445.5,699.6 445.9,698.7 446.3,697.6 446.7,706.6 447.1,706.4 447.5,697.3 447.9,697.1 448.3,698.0 448.7,698.3 449.1,697.0 449.5,704.6 449.9,704.3 450.3,695.9 450.7,699.4 451.1,697.8 451.5,696.7 451.9,699.1 452.3,703.7 452.7,703.9 453.1,699.0 453.5,697.2 453.9,699.0 454.3,697.6 454.7,699.0 455.1,704.0 455.5,705.4 455.9,697.6 456.3,698.5 456.7,695.1 457.1,699.6 457.5,698.7 457.9,706.2 458.3,704.7 458.7,697.1 459.2,698.8 459.6,698.0 460.0,694.6 460.4,698.6 460.8,705.9 461.2,705.3 461.6,697.2 462.0,696.3 462.4,697.2 462.8,698.1 463.2,695.9 463.6,704.2 464.0,706.1 464.4,696.3 464.8,691.5 465.2,696.2 465.6,693.7 466.0,696.3 466.4,706.0 466.8,704.7 467.2,697.0 467.6,697.9 468.0,699.2 468.4,699.3 468.8,693.6 469.2,703.5 469.6,706.4 470.0,697.3 470.4,694.1 470.8,699.4 471.2,697.6 471.6,696.9 472.0,703.0 L472.0,712.0 L262.0,712.0 Z" fill="#e6f2f9"/><path d="M262.0,700.8 262.4,698.8 262.8,703.3 263.2,702.9 263.6,701.1 264.0,708.2 264.4,708.1 264.8,701.8 265.2,701.8 265.6,700.4 266.0,701.9 266.4,702.5 266.8,707.4 267.2,707.3 267.6,701.5 268.0,698.6 268.4,700.8 268.8,700.7 269.2,702.2 269.6,706.9 270.0,706.2 270.4,703.2 270.8,702.2 271.2,701.8 271.6,702.4 272.0,699.1 272.4,707.6 272.8,707.7 273.2,702.8 273.6,703.2 274.0,702.6 274.4,702.6 274.8,702.1 275.3,709.0 275.7,708.1 276.1,702.4 276.5,701.0 276.9,699.6 277.3,701.4 277.7,699.0 278.1,708.3 278.5,708.4 278.9,702.5 279.3,698.7 279.7,700.8 280.1,702.5 280.5,701.4 280.9,708.2 281.3,707.5 281.7,700.8 282.1,702.1 282.5,699.0 282.9,702.1 283.3,699.4 283.7,707.2 284.1,711.4 284.5,704.7 284.9,704.8 285.3,705.6 285.7,702.7 286.1,705.2 286.5,711.2 286.9,710.5 287.3,705.5 287.7,705.2 288.1,706.2 288.5,704.6 288.9,705.7 289.3,711.4 289.7,710.7 290.1,704.5 290.5,703.7 290.9,705.8 291.3,704.6 291.7,701.7 292.1,707.8 292.5,707.0 292.9,702.3 293.3,702.1 293.7,698.9 294.1,701.7 294.5,702.9 294.9,708.5 295.3,708.2 295.7,700.9 296.1,702.4 296.5,701.4 296.9,703.0 297.3,701.7 297.7,706.9 298.1,706.8 298.5,699.2 298.9,703.2 299.3,700.8 299.7,701.1 300.1,702.1 300.5,706.7 300.9,708.7 301.3,702.3 301.8,699.9 302.2,703.4 302.6,701.6 303.0,703.0 303.4,708.1 303.8,706.4 304.2,698.8 304.6,703.4 305.0,699.9 305.4,703.4 305.8,702.1 306.2,708.5 306.6,706.6 307.0,703.0 307.4,700.0 307.8,702.4 308.2,703.1 308.6,700.7 309.0,706.6 309.4,706.2 309.8,701.7 310.2,701.8 310.6,699.8 311.0,703.2 311.4,701.7 311.8,706.2 312.2,707.4 312.6,701.3 313.0,699.8 313.4,701.0 313.8,699.7 314.2,701.1 314.6,708.2 315.0,707.5 315.4,702.2 315.8,701.6 316.2,701.8 316.6,703.2 317.0,701.2 317.4,708.6 317.8,706.5 318.2,701.8 318.6,701.4 319.0,702.0 319.4,702.6 319.8,700.8 320.2,706.9 320.6,707.9 321.0,701.3 321.4,703.4 321.8,700.7 322.2,703.1 322.6,703.0 323.0,706.2 323.4,706.6 323.8,703.2 324.2,700.3 324.6,702.1 325.0,698.7 325.4,700.9 325.8,709.0 326.2,706.8 326.6,701.2 327.0,702.8 327.4,700.5 327.9,701.7 328.3,699.5 328.7,708.2 329.1,706.9 329.5,702.3 329.9,700.8 330.3,703.5 330.7,703.1 331.1,702.3 331.5,706.5 331.9,708.2 332.3,702.2 332.7,703.2 333.1,702.4 333.5,702.8 333.9,702.3 334.3,707.6 334.7,707.5 335.1,702.6 335.5,700.3 335.9,702.9 336.3,699.0 336.7,700.8 337.1,708.2 337.5,707.4 337.9,700.9 338.3,701.9 338.7,703.0 339.1,702.3 339.5,700.8 339.9,706.7 340.3,706.4 340.7,701.2 341.1,701.6 341.5,702.0 341.9,699.0 342.3,701.8 342.7,707.0 343.1,709.0 343.5,701.5 343.9,703.4 344.3,700.1 344.7,703.2 345.1,701.8 345.5,708.5 345.9,708.1 346.3,703.4 346.7,701.2 347.1,702.3 347.5,701.0 347.9,702.9 348.3,707.8 348.7,706.4 349.1,701.9 349.5,702.4 349.9,698.9 350.3,703.3 350.7,699.7 351.1,706.7 351.5,707.8 351.9,702.4 352.3,701.1 352.7,701.4 353.1,701.4 353.5,703.1 354.0,706.5 354.4,706.4 354.8,699.3 355.2,701.7 355.6,698.8 356.0,701.5 356.4,703.2 356.8,708.0 357.2,708.4 357.6,701.5 358.0,700.9 358.4,702.5 358.8,701.1 359.2,701.2 359.6,706.9 360.0,707.6 360.4,701.0 360.8,700.8 361.2,699.5 361.6,700.9 362.0,699.4 362.4,707.0 362.8,706.8 363.2,702.1 363.6,702.1 364.0,702.3 364.4,700.1 364.8,700.9 365.2,707.8 365.6,708.5 366.0,702.8 366.4,702.5 366.8,698.6 367.2,703.1 367.6,701.3 368.0,706.3 368.4,706.4 368.8,701.0 369.2,698.6 369.6,701.6 370.0,702.6 370.4,702.6 370.8,706.8 371.2,708.0 371.6,700.0 372.0,702.2 372.4,700.8 372.8,703.1 373.2,700.7 373.6,708.8 374.0,708.2 374.4,703.1 374.8,700.8 375.2,701.4 375.6,702.0 376.0,700.9 376.4,707.3 376.8,708.0 377.2,701.3 377.6,700.6 378.0,699.5 378.4,701.7 378.8,702.5 379.2,707.3 379.6,706.1 380.0,701.7 380.5,699.0 380.9,702.8 381.3,700.7 381.7,702.0 382.1,707.1 382.5,708.0 382.9,698.7 383.3,701.3 383.7,700.9 384.1,700.6 384.5,701.5 384.9,708.1 385.3,707.8 385.7,701.1 386.1,699.1 386.5,702.6 386.9,700.1 387.3,702.1 387.7,707.8 388.1,708.7 388.5,700.1 388.9,703.2 389.3,700.8 389.7,701.2 390.1,698.9 390.5,707.7 390.9,708.2 391.3,703.2 391.7,698.6 392.1,701.1 392.5,700.1 392.9,700.6 393.3,708.4 393.7,706.1 394.1,699.1 394.5,701.0 394.9,702.0 395.3,701.1 395.7,700.2 396.1,706.3 396.5,708.1 396.9,702.7 397.3,700.1 397.7,701.9 398.1,701.7 398.5,701.5 398.9,707.1 399.3,706.3 399.7,698.4 400.1,702.9 400.5,702.9 400.9,701.7 401.3,699.0 401.7,707.6 402.1,707.9 402.5,701.7 402.9,699.7 403.3,702.1 403.7,701.6 404.1,701.6 404.5,705.8 404.9,705.9 405.3,699.3 405.7,702.5 406.1,699.3 406.6,700.8 407.0,700.9 407.4,707.6 407.8,707.9 408.2,700.6 408.6,702.2 409.0,702.5 409.4,701.0 409.8,701.7 410.2,706.5 410.6,705.7 411.0,700.1 411.4,700.2 411.8,701.0 412.2,701.4 412.6,700.9 413.0,706.9 413.4,708.1 413.8,702.1 414.2,699.7 414.6,701.6 415.0,700.2 415.4,700.3 415.8,705.8 416.2,707.9 416.6,701.3 417.0,701.1 417.4,699.0 417.8,701.0 418.2,700.8 418.6,707.9 419.0,705.8 419.4,701.1 419.8,700.8 420.2,701.4 420.6,698.7 421.0,700.6 421.4,707.3 421.8,706.4 422.2,701.5 422.6,701.5 423.0,701.5 423.4,702.0 423.8,698.1 424.2,705.8 424.6,707.8 425.0,701.7 425.4,700.9 425.8,701.9 426.2,702.2 426.6,701.5 427.0,705.9 427.4,706.7 427.8,701.2 428.2,700.2 428.6,698.2 429.0,701.5 429.4,699.5 429.8,708.1 430.2,706.3 430.6,702.5 431.0,701.4 431.4,702.2 431.8,699.3 432.2,701.7 432.7,706.4 433.1,707.6 433.5,701.4 433.9,700.4 434.3,699.5 434.7,701.6 435.1,698.6 435.5,710.8 435.9,711.4 436.3,704.6 436.7,704.6 437.1,705.3 437.5,702.5 437.9,705.1 438.3,711.4 438.7,711.4 439.1,702.6 439.5,705.1 439.9,702.4 440.3,706.4 440.7,704.1 441.1,711.4 441.5,710.9 441.9,698.6 442.3,698.7 442.7,696.6 443.1,697.7 443.5,698.3 443.9,706.5 444.3,704.0 444.7,694.1 445.1,699.5 445.5,699.6 445.9,698.7 446.3,697.6 446.7,706.6 447.1,706.4 447.5,697.3 447.9,697.1 448.3,698.0 448.7,698.3 449.1,697.0 449.5,704.6 449.9,704.3 450.3,695.9 450.7,699.4 451.1,697.8 451.5,696.7 451.9,699.1 452.3,703.7 452.7,703.9 453.1,699.0 453.5,697.2 453.9,699.0 454.3,697.6 454.7,699.0 455.1,704.0 455.5,705.4 455.9,697.6 456.3,698.5 456.7,695.1 457.1,699.6 457.5,698.7 457.9,706.2 458.3,704.7 458.7,697.1 459.2,698.8 459.6,698.0 460.0,694.6 460.4,698.6 460.8,705.9 461.2,705.3 461.6,697.2 462.0,696.3 462.4,697.2 462.8,698.1 463.2,695.9 463.6,704.2 464.0,706.1 464.4,696.3 464.8,691.5 465.2,696.2 465.6,693.7 466.0,696.3 466.4,706.0 466.8,704.7 467.2,697.0 467.6,697.9 468.0,699.2 468.4,699.3 468.8,693.6 469.2,703.5 469.6,706.4 470.0,697.3 470.4,694.1 470.8,699.4 471.2,697.6 471.6,696.9 472.0,703.0" fill="none" stroke="#0a8ac6" stroke-width="1.9" stroke-linejoin="round"/><path d="M500.0,708.1 500.4,707.2 500.8,708.0 501.2,707.1 501.6,707.6 502.0,709.8 502.4,709.7 502.8,706.6 503.2,708.1 503.6,707.9 504.0,707.2 504.4,707.3 504.8,710.8 505.2,710.3 505.6,707.6 506.0,708.0 506.4,707.6 506.8,706.5 507.2,707.8 507.6,710.7 508.0,710.6 508.4,708.2 508.8,707.5 509.2,707.1 509.6,708.1 510.0,708.3 510.4,710.8 510.8,710.3 511.2,707.5 511.6,706.5 512.0,707.5 512.4,706.4 512.8,707.9 513.3,710.7 513.7,710.3 514.1,706.3 514.5,707.3 514.9,708.1 515.3,708.3 515.7,707.9 516.1,711.0 516.5,710.3 516.9,707.6 517.3,707.7 517.7,707.8 518.1,707.5 518.5,708.0 518.9,710.5 519.3,710.5 519.7,706.4 520.1,707.6 520.5,706.4 520.9,707.3 521.3,706.2 521.7,710.6 522.1,709.9 522.5,707.3 522.9,706.3 523.3,707.3 523.7,707.1 524.1,707.5 524.5,710.0 524.9,710.8 525.3,707.1 525.7,708.1 526.1,708.2 526.5,707.3 526.9,706.2 527.3,709.8 527.7,710.7 528.1,707.9 528.5,708.0 528.9,708.1 529.3,706.7 529.7,707.3 530.1,709.7 530.5,710.5 530.9,708.3 531.3,707.5 531.7,707.6 532.1,707.3 532.5,706.2 532.9,710.3 533.3,711.0 533.7,708.1 534.1,708.2 534.5,707.7 534.9,708.3 535.3,708.2 535.7,710.2 536.1,710.5 536.5,708.0 536.9,708.4 537.3,706.5 537.7,708.0 538.1,706.3 538.5,710.9 538.9,710.2 539.3,707.9 539.8,707.2 540.2,707.6 540.6,707.1 541.0,707.7 541.4,710.5 541.8,710.9 542.2,707.3 542.6,707.9 543.0,706.8 543.4,708.1 543.8,707.7 544.2,711.0 544.6,710.4 545.0,707.7 545.4,708.3 545.8,707.9 546.2,707.1 546.6,708.4 547.0,710.5 547.4,710.5 547.8,708.2 548.2,707.6 548.6,707.4 549.0,707.6 549.4,707.6 549.8,710.6 550.2,710.7 550.6,708.4 551.0,708.2 551.4,707.6 551.8,706.3 552.2,708.1 552.6,710.3 553.0,710.5 553.4,707.7 553.8,708.0 554.2,707.7 554.6,708.0 555.0,707.1 555.4,710.1 555.8,710.2 556.2,707.5 556.6,708.3 557.0,707.7 557.4,706.8 557.8,708.1 558.2,710.0 558.6,710.7 559.0,707.8 559.4,708.2 559.8,707.4 560.2,707.6 560.6,708.1 561.0,710.1 561.4,710.1 561.8,707.4 562.2,707.4 562.6,707.3 563.0,708.0 563.4,708.0 563.8,710.5 564.2,710.8 564.6,707.4 565.0,708.2 565.4,708.1 565.9,707.8 566.3,707.9 566.7,710.7 567.1,710.8 567.5,708.2 567.9,707.8 568.3,707.4 568.7,707.0 569.1,707.4 569.5,710.1 569.9,709.9 570.3,707.7 570.7,707.4 571.1,707.8 571.5,708.0 571.9,707.5 572.3,710.2 572.7,710.2 573.1,707.3 573.5,708.0 573.9,708.4 574.3,706.3 574.7,707.3 575.1,711.0 575.5,710.3 575.9,706.3 576.3,707.3 576.7,707.9 577.1,707.5 577.5,706.6 577.9,710.6 578.3,710.4 578.7,708.1 579.1,707.6 579.5,708.2 579.9,708.2 580.3,707.7 580.7,710.1 581.1,710.7 581.5,708.3 581.9,707.3 582.3,706.9 582.7,707.3 583.1,706.4 583.5,710.9 583.9,710.4 584.3,708.4 584.7,706.8 585.1,708.2 585.5,707.7 585.9,707.6 586.3,710.4 586.7,710.2 587.1,706.3 587.5,707.7 587.9,707.6 588.3,708.1 588.7,706.5 589.1,710.3 589.5,710.7 589.9,708.0 590.3,707.9 590.7,707.8 591.1,706.6 591.5,708.2 592.0,710.7 592.4,710.9 592.8,706.6 593.2,707.4 593.6,708.3 594.0,707.6 594.4,706.5 594.8,709.7 595.2,710.0 595.6,708.1 596.0,707.2 596.4,707.9 596.8,707.3 597.2,707.4 597.6,709.7 598.0,709.8 598.4,708.1 598.8,708.3 599.2,708.2 599.6,707.2 600.0,706.5 600.4,709.8 600.8,710.3 601.2,708.0 601.6,707.7 602.0,708.0 602.4,706.8 602.8,704.5 603.2,706.8 603.6,709.9 604.0,707.6 604.4,708.3 604.8,707.2 605.2,707.5 605.6,707.5 606.0,709.8 606.4,709.9 606.8,708.0 607.2,707.1 607.6,707.4 608.0,707.5 608.4,707.4 608.8,710.5 609.2,710.2 609.6,707.6 610.0,707.8 610.4,706.8 610.8,707.9 611.2,706.9 611.6,710.3 612.0,710.0 612.4,707.8 612.8,706.9 613.2,708.4 613.6,707.4 614.0,707.9 614.4,710.8 614.8,710.9 615.2,707.6 615.6,706.3 616.0,705.4 616.4,707.4 616.8,706.3 617.2,709.7 617.6,710.9 618.0,706.7 618.5,705.1 618.9,700.1 619.3,690.5 619.7,700.1 620.1,710.4 620.5,709.6 620.9,706.0 621.3,707.8 621.7,707.3 622.1,706.5 622.5,707.6 622.9,709.6 623.3,709.6 623.7,706.3 624.1,707.2 624.5,707.8 624.9,705.3 625.3,707.6 625.7,710.9 626.1,710.6 626.5,705.3 626.9,706.2 627.3,706.0 627.7,706.4 628.1,707.6 628.5,710.8 628.9,710.3 629.3,706.6 629.7,707.4 630.1,706.5 630.5,705.0 630.9,707.7 631.3,710.0 631.7,710.4 632.1,705.3 632.5,707.4 632.9,707.2 633.3,707.4 633.7,705.9 634.1,710.8 634.5,710.1 634.9,707.2 635.3,706.5 635.7,707.2 636.1,706.5 636.5,707.7 636.9,710.3 637.3,711.2 637.7,706.5 638.1,706.5 638.5,707.2 638.9,706.6 639.3,705.5 639.7,710.6 640.1,710.4 640.5,707.0 640.9,705.8 641.3,706.3 641.7,707.2 642.1,707.6 642.5,710.8 642.9,711.1 643.3,706.2 643.7,707.0 644.1,705.6 644.6,707.5 645.0,706.9 645.4,709.8 645.8,710.5 646.2,707.3 646.6,707.0 647.0,706.6 647.4,704.9 647.8,707.3 648.2,710.7 648.6,710.2 649.0,705.2 649.4,706.8 649.8,706.9 650.2,707.4 650.6,707.6 651.0,710.3 651.4,710.1 651.8,707.5 652.2,706.6 652.6,707.3 653.0,705.5 653.4,707.6 653.8,711.2 654.2,710.3 654.6,706.0 655.0,707.0 655.4,705.3 655.8,706.4 656.2,706.1 656.6,710.3 657.0,710.7 657.4,706.3 657.8,706.5 658.2,706.5 658.6,704.9 659.0,707.0 659.4,709.8 659.8,709.9 660.2,705.6 660.6,706.6 661.0,704.9 661.4,706.3 661.8,707.0 662.2,709.8 662.6,709.9 663.0,707.5 663.4,705.7 663.8,704.0 664.2,705.1 664.6,707.4 665.0,711.0 665.4,710.0 665.8,706.5 666.2,706.5 666.6,707.4 667.0,707.6 667.4,705.3 667.8,710.0 668.2,710.1 668.6,706.8 669.0,705.7 669.4,707.8 669.8,706.7 670.2,707.1 670.7,710.3 671.1,709.8 671.5,706.0 671.9,706.2 672.3,706.6 672.7,706.9 673.1,707.3 673.5,709.9 673.9,710.6 674.3,707.6 674.7,705.1 675.1,706.2 675.5,707.4 675.9,706.2 676.3,710.1 676.7,710.8 677.1,705.5 677.5,707.3 677.9,705.7 678.3,706.7 678.7,705.4 679.1,709.9 679.5,710.8 679.9,706.1 680.3,705.7 680.7,706.9 681.1,707.4 681.5,707.0 681.9,710.1 682.3,710.7 682.7,705.7 683.1,706.8 683.5,707.2 683.9,706.7 684.3,705.9 684.7,709.8 685.1,711.0 685.5,706.7 685.9,707.3 686.3,706.2 686.7,707.3 687.1,707.2 687.5,710.7 687.9,710.5 688.3,706.1 688.7,706.7 689.1,706.4 689.5,707.3 689.9,707.2 690.3,709.6 690.7,710.7 691.1,706.5 691.5,706.1 691.9,706.5 692.3,706.6 692.7,707.3 693.1,710.1 693.5,711.0 693.9,707.6 694.3,706.9 694.7,707.0 695.1,706.5 695.5,706.7 695.9,710.0 696.3,710.1 696.7,706.9 697.2,705.5 697.6,707.2 698.0,705.2 698.4,707.6 698.8,709.9 699.2,709.6 699.6,707.4 700.0,706.5 700.4,705.6 700.8,707.5 701.2,707.1 701.6,710.2 702.0,710.7 702.4,706.4 702.8,705.5 703.2,706.8 703.6,707.3 704.0,707.1 704.4,709.8 704.8,710.4 705.2,706.0 705.6,707.5 706.0,707.0 706.4,706.5 706.8,707.6 707.2,710.9 707.6,711.0 708.0,706.2 708.4,706.6 708.8,706.9 709.2,706.0 709.6,706.7 710.0,711.2 L710.0,712.0 L500.0,712.0 Z" fill="#e6f2f9"/><path d="M500.0,708.1 500.4,707.2 500.8,708.0 501.2,707.1 501.6,707.6 502.0,709.8 502.4,709.7 502.8,706.6 503.2,708.1 503.6,707.9 504.0,707.2 504.4,707.3 504.8,710.8 505.2,710.3 505.6,707.6 506.0,708.0 506.4,707.6 506.8,706.5 507.2,707.8 507.6,710.7 508.0,710.6 508.4,708.2 508.8,707.5 509.2,707.1 509.6,708.1 510.0,708.3 510.4,710.8 510.8,710.3 511.2,707.5 511.6,706.5 512.0,707.5 512.4,706.4 512.8,707.9 513.3,710.7 513.7,710.3 514.1,706.3 514.5,707.3 514.9,708.1 515.3,708.3 515.7,707.9 516.1,711.0 516.5,710.3 516.9,707.6 517.3,707.7 517.7,707.8 518.1,707.5 518.5,708.0 518.9,710.5 519.3,710.5 519.7,706.4 520.1,707.6 520.5,706.4 520.9,707.3 521.3,706.2 521.7,710.6 522.1,709.9 522.5,707.3 522.9,706.3 523.3,707.3 523.7,707.1 524.1,707.5 524.5,710.0 524.9,710.8 525.3,707.1 525.7,708.1 526.1,708.2 526.5,707.3 526.9,706.2 527.3,709.8 527.7,710.7 528.1,707.9 528.5,708.0 528.9,708.1 529.3,706.7 529.7,707.3 530.1,709.7 530.5,710.5 530.9,708.3 531.3,707.5 531.7,707.6 532.1,707.3 532.5,706.2 532.9,710.3 533.3,711.0 533.7,708.1 534.1,708.2 534.5,707.7 534.9,708.3 535.3,708.2 535.7,710.2 536.1,710.5 536.5,708.0 536.9,708.4 537.3,706.5 537.7,708.0 538.1,706.3 538.5,710.9 538.9,710.2 539.3,707.9 539.8,707.2 540.2,707.6 540.6,707.1 541.0,707.7 541.4,710.5 541.8,710.9 542.2,707.3 542.6,707.9 543.0,706.8 543.4,708.1 543.8,707.7 544.2,711.0 544.6,710.4 545.0,707.7 545.4,708.3 545.8,707.9 546.2,707.1 546.6,708.4 547.0,710.5 547.4,710.5 547.8,708.2 548.2,707.6 548.6,707.4 549.0,707.6 549.4,707.6 549.8,710.6 550.2,710.7 550.6,708.4 551.0,708.2 551.4,707.6 551.8,706.3 552.2,708.1 552.6,710.3 553.0,710.5 553.4,707.7 553.8,708.0 554.2,707.7 554.6,708.0 555.0,707.1 555.4,710.1 555.8,710.2 556.2,707.5 556.6,708.3 557.0,707.7 557.4,706.8 557.8,708.1 558.2,710.0 558.6,710.7 559.0,707.8 559.4,708.2 559.8,707.4 560.2,707.6 560.6,708.1 561.0,710.1 561.4,710.1 561.8,707.4 562.2,707.4 562.6,707.3 563.0,708.0 563.4,708.0 563.8,710.5 564.2,710.8 564.6,707.4 565.0,708.2 565.4,708.1 565.9,707.8 566.3,707.9 566.7,710.7 567.1,710.8 567.5,708.2 567.9,707.8 568.3,707.4 568.7,707.0 569.1,707.4 569.5,710.1 569.9,709.9 570.3,707.7 570.7,707.4 571.1,707.8 571.5,708.0 571.9,707.5 572.3,710.2 572.7,710.2 573.1,707.3 573.5,708.0 573.9,708.4 574.3,706.3 574.7,707.3 575.1,711.0 575.5,710.3 575.9,706.3 576.3,707.3 576.7,707.9 577.1,707.5 577.5,706.6 577.9,710.6 578.3,710.4 578.7,708.1 579.1,707.6 579.5,708.2 579.9,708.2 580.3,707.7 580.7,710.1 581.1,710.7 581.5,708.3 581.9,707.3 582.3,706.9 582.7,707.3 583.1,706.4 583.5,710.9 583.9,710.4 584.3,708.4 584.7,706.8 585.1,708.2 585.5,707.7 585.9,707.6 586.3,710.4 586.7,710.2 587.1,706.3 587.5,707.7 587.9,707.6 588.3,708.1 588.7,706.5 589.1,710.3 589.5,710.7 589.9,708.0 590.3,707.9 590.7,707.8 591.1,706.6 591.5,708.2 592.0,710.7 592.4,710.9 592.8,706.6 593.2,707.4 593.6,708.3 594.0,707.6 594.4,706.5 594.8,709.7 595.2,710.0 595.6,708.1 596.0,707.2 596.4,707.9 596.8,707.3 597.2,707.4 597.6,709.7 598.0,709.8 598.4,708.1 598.8,708.3 599.2,708.2 599.6,707.2 600.0,706.5 600.4,709.8 600.8,710.3 601.2,708.0 601.6,707.7 602.0,708.0 602.4,706.8 602.8,704.5 603.2,706.8 603.6,709.9 604.0,707.6 604.4,708.3 604.8,707.2 605.2,707.5 605.6,707.5 606.0,709.8 606.4,709.9 606.8,708.0 607.2,707.1 607.6,707.4 608.0,707.5 608.4,707.4 608.8,710.5 609.2,710.2 609.6,707.6 610.0,707.8 610.4,706.8 610.8,707.9 611.2,706.9 611.6,710.3 612.0,710.0 612.4,707.8 612.8,706.9 613.2,708.4 613.6,707.4 614.0,707.9 614.4,710.8 614.8,710.9 615.2,707.6 615.6,706.3 616.0,705.4 616.4,707.4 616.8,706.3 617.2,709.7 617.6,710.9 618.0,706.7 618.5,705.1 618.9,700.1 619.3,690.5 619.7,700.1 620.1,710.4 620.5,709.6 620.9,706.0 621.3,707.8 621.7,707.3 622.1,706.5 622.5,707.6 622.9,709.6 623.3,709.6 623.7,706.3 624.1,707.2 624.5,707.8 624.9,705.3 625.3,707.6 625.7,710.9 626.1,710.6 626.5,705.3 626.9,706.2 627.3,706.0 627.7,706.4 628.1,707.6 628.5,710.8 628.9,710.3 629.3,706.6 629.7,707.4 630.1,706.5 630.5,705.0 630.9,707.7 631.3,710.0 631.7,710.4 632.1,705.3 632.5,707.4 632.9,707.2 633.3,707.4 633.7,705.9 634.1,710.8 634.5,710.1 634.9,707.2 635.3,706.5 635.7,707.2 636.1,706.5 636.5,707.7 636.9,710.3 637.3,711.2 637.7,706.5 638.1,706.5 638.5,707.2 638.9,706.6 639.3,705.5 639.7,710.6 640.1,710.4 640.5,707.0 640.9,705.8 641.3,706.3 641.7,707.2 642.1,707.6 642.5,710.8 642.9,711.1 643.3,706.2 643.7,707.0 644.1,705.6 644.6,707.5 645.0,706.9 645.4,709.8 645.8,710.5 646.2,707.3 646.6,707.0 647.0,706.6 647.4,704.9 647.8,707.3 648.2,710.7 648.6,710.2 649.0,705.2 649.4,706.8 649.8,706.9 650.2,707.4 650.6,707.6 651.0,710.3 651.4,710.1 651.8,707.5 652.2,706.6 652.6,707.3 653.0,705.5 653.4,707.6 653.8,711.2 654.2,710.3 654.6,706.0 655.0,707.0 655.4,705.3 655.8,706.4 656.2,706.1 656.6,710.3 657.0,710.7 657.4,706.3 657.8,706.5 658.2,706.5 658.6,704.9 659.0,707.0 659.4,709.8 659.8,709.9 660.2,705.6 660.6,706.6 661.0,704.9 661.4,706.3 661.8,707.0 662.2,709.8 662.6,709.9 663.0,707.5 663.4,705.7 663.8,704.0 664.2,705.1 664.6,707.4 665.0,711.0 665.4,710.0 665.8,706.5 666.2,706.5 666.6,707.4 667.0,707.6 667.4,705.3 667.8,710.0 668.2,710.1 668.6,706.8 669.0,705.7 669.4,707.8 669.8,706.7 670.2,707.1 670.7,710.3 671.1,709.8 671.5,706.0 671.9,706.2 672.3,706.6 672.7,706.9 673.1,707.3 673.5,709.9 673.9,710.6 674.3,707.6 674.7,705.1 675.1,706.2 675.5,707.4 675.9,706.2 676.3,710.1 676.7,710.8 677.1,705.5 677.5,707.3 677.9,705.7 678.3,706.7 678.7,705.4 679.1,709.9 679.5,710.8 679.9,706.1 680.3,705.7 680.7,706.9 681.1,707.4 681.5,707.0 681.9,710.1 682.3,710.7 682.7,705.7 683.1,706.8 683.5,707.2 683.9,706.7 684.3,705.9 684.7,709.8 685.1,711.0 685.5,706.7 685.9,707.3 686.3,706.2 686.7,707.3 687.1,707.2 687.5,710.7 687.9,710.5 688.3,706.1 688.7,706.7 689.1,706.4 689.5,707.3 689.9,707.2 690.3,709.6 690.7,710.7 691.1,706.5 691.5,706.1 691.9,706.5 692.3,706.6 692.7,707.3 693.1,710.1 693.5,711.0 693.9,707.6 694.3,706.9 694.7,707.0 695.1,706.5 695.5,706.7 695.9,710.0 696.3,710.1 696.7,706.9 697.2,705.5 697.6,707.2 698.0,705.2 698.4,707.6 698.8,709.9 699.2,709.6 699.6,707.4 700.0,706.5 700.4,705.6 700.8,707.5 701.2,707.1 701.6,710.2 702.0,710.7 702.4,706.4 702.8,705.5 703.2,706.8 703.6,707.3 704.0,707.1 704.4,709.8 704.8,710.4 705.2,706.0 705.6,707.5 706.0,707.0 706.4,706.5 706.8,707.6 707.2,710.9 707.6,711.0 708.0,706.2 708.4,706.6 708.8,706.9 709.2,706.0 709.6,706.7 710.0,711.2" fill="none" stroke="#0a8ac6" stroke-width="1.9" stroke-linejoin="round"/><path d="M738.5,710.3 738.9,710.2 739.3,710.2 739.7,710.2 740.1,710.3 740.5,710.9 740.9,711.2 741.3,709.7 741.7,710.0 742.1,710.2 742.5,710.1 742.9,710.1 743.3,710.8 743.7,710.8 744.1,710.3 744.5,709.7 744.9,710.0 745.3,709.7 745.7,710.0 746.1,710.8 746.5,710.9 746.9,709.9 747.3,710.0 747.7,709.7 748.1,710.0 748.5,710.3 748.9,711.0 749.3,711.1 749.7,710.1 750.1,710.2 750.5,710.1 750.9,710.3 751.3,709.9 751.8,711.1 752.2,711.0 752.6,710.1 753.0,710.0 753.4,709.9 753.8,710.0 754.2,709.7 754.6,711.0 755.0,710.9 755.4,710.1 755.8,710.0 756.2,710.3 756.6,710.1 757.0,710.0 757.4,710.8 757.8,710.8 758.2,709.9 758.6,710.2 759.0,709.9 759.4,710.1 759.8,710.1 760.2,711.2 760.6,710.8 761.0,710.2 761.4,710.2 761.8,710.1 762.2,710.1 762.6,710.2 763.0,711.1 763.4,710.9 763.8,709.9 764.2,710.0 764.6,710.2 765.0,710.3 765.4,710.2 765.8,711.1 766.2,711.0 766.6,710.2 767.0,710.1 767.4,710.3 767.8,710.0 768.2,710.3 768.6,711.1 769.0,711.2 769.4,709.6 769.8,710.0 770.2,709.6 770.6,710.3 771.0,710.1 771.4,711.2 771.8,711.1 772.2,710.2 772.6,709.6 773.0,710.1 773.4,709.7 773.8,710.2 774.2,710.8 774.6,711.0 775.0,710.2 775.4,710.2 775.8,709.6 776.2,710.2 776.6,710.3 777.0,710.8 777.4,710.8 777.8,710.0 778.3,710.1 778.7,710.2 779.1,710.3 779.5,709.9 779.9,710.9 780.3,710.9 780.7,710.3 781.1,710.3 781.5,710.2 781.9,710.1 782.3,710.2 782.7,710.8 783.1,711.0 783.5,710.2 783.9,709.6 784.3,710.3 784.7,709.9 785.1,710.0 785.5,710.9 785.9,711.2 786.3,710.0 786.7,710.2 787.1,710.0 787.5,710.3 787.9,710.0 788.3,710.9 788.7,711.2 789.1,710.0 789.5,710.0 789.9,710.3 790.3,710.1 790.7,710.2 791.1,710.9 791.5,710.9 791.9,709.7 792.3,710.3 792.7,710.3 793.1,710.0 793.5,709.9 793.9,711.2 794.3,710.9 794.7,710.0 795.1,709.8 795.5,710.0 795.9,709.8 796.3,710.1 796.7,710.8 797.1,710.9 797.5,709.7 797.9,710.0 798.3,709.7 798.7,710.2 799.1,709.8 799.5,711.1 799.9,711.0 800.3,710.0 800.7,709.9 801.1,710.1 801.5,709.8 801.9,710.2 802.3,711.2 802.7,711.2 803.1,710.3 803.5,709.9 803.9,709.6 804.4,710.1 804.8,710.3 805.2,711.2 805.6,710.8 806.0,709.9 806.4,709.8 806.8,710.3 807.2,710.2 807.6,710.1 808.0,711.0 808.4,711.1 808.8,709.7 809.2,710.3 809.6,710.3 810.0,710.0 810.4,710.3 810.8,711.1 811.2,710.8 811.6,710.0 812.0,709.8 812.4,710.0 812.8,709.9 813.2,710.0 813.6,710.8 814.0,711.1 814.4,710.1 814.8,710.0 815.2,709.8 815.6,710.1 816.0,709.9 816.4,710.8 816.8,710.8 817.2,710.1 817.6,710.0 818.0,710.0 818.4,709.9 818.8,710.3 819.2,710.9 819.6,711.1 820.0,709.9 820.4,710.3 820.8,709.7 821.2,710.0 821.6,710.3 822.0,711.0 822.4,710.9 822.8,710.0 823.2,710.1 823.6,710.3 824.0,709.3 824.4,708.0 824.8,709.3 825.2,710.8 825.6,709.9 826.0,710.0 826.4,710.0 826.8,710.2 827.2,709.7 827.6,711.1 828.0,710.8 828.4,710.0 828.8,710.2 829.2,710.2 829.6,709.7 830.0,710.2 830.5,711.1 830.9,710.8 831.3,709.7 831.7,710.3 832.1,710.2 832.5,710.1 832.9,710.1 833.3,711.0 833.7,711.2 834.1,710.0 834.5,710.3 834.9,710.2 835.3,709.9 835.7,710.1 836.1,711.1 836.5,711.0 836.9,708.9 837.3,707.0 837.7,708.9 838.1,710.2 838.5,709.8 838.9,711.2 839.3,711.0 839.7,710.1 840.1,709.9 840.5,710.2 840.9,709.7 841.3,710.2 841.7,711.2 842.1,710.9 842.5,709.7 842.9,710.0 843.3,709.9 843.7,710.2 844.1,710.2 844.5,711.1 844.9,710.9 845.3,710.1 845.7,710.2 846.1,710.3 846.5,710.2 846.9,710.0 847.3,710.8 847.7,711.2 848.1,710.1 848.5,710.1 848.9,710.1 849.3,710.1 849.7,710.3 850.1,710.9 850.5,711.2 850.9,710.3 851.3,709.8 851.7,710.2 852.1,710.1 852.5,710.3 852.9,710.8 853.3,711.2 853.7,709.7 854.1,710.0 854.5,709.7 854.9,709.9 855.3,710.2 855.7,711.0 856.1,711.0 856.5,710.1 857.0,709.6 857.4,701.4 857.8,690.5 858.2,701.4 858.6,711.0 859.0,711.1 859.4,709.8 859.8,710.1 860.2,709.7 860.6,710.2 861.0,709.7 861.4,710.9 861.8,711.0 862.2,710.0 862.6,709.8 863.0,710.2 863.4,710.2 863.8,710.2 864.2,711.0 864.6,711.2 865.0,709.7 865.4,710.2 865.8,710.0 866.2,710.0 866.6,710.1 867.0,710.9 867.4,710.8 867.8,710.3 868.2,709.9 868.6,710.1 869.0,709.9 869.4,710.2 869.8,711.2 870.2,711.0 870.6,710.2 871.0,710.3 871.4,709.6 871.8,709.9 872.2,709.7 872.6,711.0 873.0,710.9 873.4,710.3 873.8,710.1 874.2,710.3 874.6,709.7 875.0,710.0 875.4,711.1 875.8,710.8 876.2,710.1 876.6,710.2 877.0,709.6 877.4,710.3 877.8,709.8 878.2,711.1 878.6,711.0 879.0,709.9 879.4,710.1 879.8,710.1 880.2,710.2 880.6,710.3 881.0,710.8 881.4,710.9 881.8,710.2 882.2,710.3 882.6,709.6 883.1,710.2 883.5,709.7 883.9,711.1 884.3,711.1 884.7,710.1 885.1,709.6 885.5,710.0 885.9,709.8 886.3,710.1 886.7,711.1 887.1,711.1 887.5,709.9 887.9,710.1 888.3,710.2 888.7,710.0 889.1,710.0 889.5,710.8 889.9,710.8 890.3,710.0 890.7,710.1 891.1,710.2 891.5,709.3 891.9,708.0 892.3,709.3 892.7,710.9 893.1,710.0 893.5,710.3 893.9,709.7 894.3,710.3 894.7,709.6 895.1,710.8 895.5,710.8 895.9,710.0 896.3,709.7 896.7,710.3 897.1,709.9 897.5,710.1 897.9,711.1 898.3,710.8 898.7,709.7 899.1,709.9 899.5,709.8 899.9,710.0 900.3,709.6 900.7,710.9 901.1,711.1 901.5,710.0 901.9,709.9 902.3,710.3 902.7,709.9 903.1,710.0 903.5,710.9 903.9,711.0 904.3,709.7 904.7,710.1 905.1,710.3 905.5,710.1 905.9,710.1 906.3,711.1 906.7,711.1 907.1,710.2 907.5,709.7 907.9,710.1 908.3,710.1 908.7,710.0 909.2,711.2 909.6,711.2 910.0,709.7 910.4,710.1 910.8,709.8 911.2,710.1 911.6,709.9 912.0,711.2 912.4,710.9 912.8,710.3 913.2,709.8 913.6,710.1 914.0,709.9 914.4,710.1 914.8,710.9 915.2,710.8 915.6,710.3 916.0,710.0 916.4,709.7 916.8,710.1 917.2,710.2 917.6,711.2 918.0,711.1 918.4,710.1 918.8,710.3 919.2,710.0 919.6,709.9 920.0,710.1 920.4,710.8 920.8,711.1 921.2,710.3 921.6,710.1 922.0,710.2 922.4,710.2 922.8,709.7 923.2,711.1 923.6,711.1 924.0,710.2 924.4,710.0 924.8,710.1 925.2,710.3 925.6,710.2 926.0,711.2 926.4,711.1 926.8,709.7 927.2,710.2 927.6,709.8 928.0,710.0 928.4,709.8 928.8,711.0 929.2,710.8 929.6,710.3 930.0,709.7 930.4,709.9 930.8,710.1 931.2,710.0 931.6,710.9 932.0,711.0 932.4,709.7 932.8,710.2 933.2,709.9 933.6,710.2 934.0,710.0 934.4,710.8 934.8,710.9 935.2,710.2 935.7,709.7 936.1,710.3 936.5,709.8 936.9,710.3 937.3,711.2 937.7,710.8 938.1,710.3 938.5,710.3 938.9,709.6 939.3,710.1 939.7,709.7 940.1,711.0 940.5,710.8 940.9,710.2 941.3,710.0 941.7,709.9 942.1,710.2 942.5,710.2 942.9,711.1 943.3,710.8 943.7,709.6 944.1,710.2 944.5,709.9 944.9,710.1 945.3,709.7 945.7,710.8 946.1,711.1 946.5,710.3 946.9,709.8 947.3,710.3 947.7,709.8 948.1,710.3 948.5,710.9 L948.5,712.0 L738.5,712.0 Z" fill="#e6f2f9"/><path d="M738.5,710.3 738.9,710.2 739.3,710.2 739.7,710.2 740.1,710.3 740.5,710.9 740.9,711.2 741.3,709.7 741.7,710.0 742.1,710.2 742.5,710.1 742.9,710.1 743.3,710.8 743.7,710.8 744.1,710.3 744.5,709.7 744.9,710.0 745.3,709.7 745.7,710.0 746.1,710.8 746.5,710.9 746.9,709.9 747.3,710.0 747.7,709.7 748.1,710.0 748.5,710.3 748.9,711.0 749.3,711.1 749.7,710.1 750.1,710.2 750.5,710.1 750.9,710.3 751.3,709.9 751.8,711.1 752.2,711.0 752.6,710.1 753.0,710.0 753.4,709.9 753.8,710.0 754.2,709.7 754.6,711.0 755.0,710.9 755.4,710.1 755.8,710.0 756.2,710.3 756.6,710.1 757.0,710.0 757.4,710.8 757.8,710.8 758.2,709.9 758.6,710.2 759.0,709.9 759.4,710.1 759.8,710.1 760.2,711.2 760.6,710.8 761.0,710.2 761.4,710.2 761.8,710.1 762.2,710.1 762.6,710.2 763.0,711.1 763.4,710.9 763.8,709.9 764.2,710.0 764.6,710.2 765.0,710.3 765.4,710.2 765.8,711.1 766.2,711.0 766.6,710.2 767.0,710.1 767.4,710.3 767.8,710.0 768.2,710.3 768.6,711.1 769.0,711.2 769.4,709.6 769.8,710.0 770.2,709.6 770.6,710.3 771.0,710.1 771.4,711.2 771.8,711.1 772.2,710.2 772.6,709.6 773.0,710.1 773.4,709.7 773.8,710.2 774.2,710.8 774.6,711.0 775.0,710.2 775.4,710.2 775.8,709.6 776.2,710.2 776.6,710.3 777.0,710.8 777.4,710.8 777.8,710.0 778.3,710.1 778.7,710.2 779.1,710.3 779.5,709.9 779.9,710.9 780.3,710.9 780.7,710.3 781.1,710.3 781.5,710.2 781.9,710.1 782.3,710.2 782.7,710.8 783.1,711.0 783.5,710.2 783.9,709.6 784.3,710.3 784.7,709.9 785.1,710.0 785.5,710.9 785.9,711.2 786.3,710.0 786.7,710.2 787.1,710.0 787.5,710.3 787.9,710.0 788.3,710.9 788.7,711.2 789.1,710.0 789.5,710.0 789.9,710.3 790.3,710.1 790.7,710.2 791.1,710.9 791.5,710.9 791.9,709.7 792.3,710.3 792.7,710.3 793.1,710.0 793.5,709.9 793.9,711.2 794.3,710.9 794.7,710.0 795.1,709.8 795.5,710.0 795.9,709.8 796.3,710.1 796.7,710.8 797.1,710.9 797.5,709.7 797.9,710.0 798.3,709.7 798.7,710.2 799.1,709.8 799.5,711.1 799.9,711.0 800.3,710.0 800.7,709.9 801.1,710.1 801.5,709.8 801.9,710.2 802.3,711.2 802.7,711.2 803.1,710.3 803.5,709.9 803.9,709.6 804.4,710.1 804.8,710.3 805.2,711.2 805.6,710.8 806.0,709.9 806.4,709.8 806.8,710.3 807.2,710.2 807.6,710.1 808.0,711.0 808.4,711.1 808.8,709.7 809.2,710.3 809.6,710.3 810.0,710.0 810.4,710.3 810.8,711.1 811.2,710.8 811.6,710.0 812.0,709.8 812.4,710.0 812.8,709.9 813.2,710.0 813.6,710.8 814.0,711.1 814.4,710.1 814.8,710.0 815.2,709.8 815.6,710.1 816.0,709.9 816.4,710.8 816.8,710.8 817.2,710.1 817.6,710.0 818.0,710.0 818.4,709.9 818.8,710.3 819.2,710.9 819.6,711.1 820.0,709.9 820.4,710.3 820.8,709.7 821.2,710.0 821.6,710.3 822.0,711.0 822.4,710.9 822.8,710.0 823.2,710.1 823.6,710.3 824.0,709.3 824.4,708.0 824.8,709.3 825.2,710.8 825.6,709.9 826.0,710.0 826.4,710.0 826.8,710.2 827.2,709.7 827.6,711.1 828.0,710.8 828.4,710.0 828.8,710.2 829.2,710.2 829.6,709.7 830.0,710.2 830.5,711.1 830.9,710.8 831.3,709.7 831.7,710.3 832.1,710.2 832.5,710.1 832.9,710.1 833.3,711.0 833.7,711.2 834.1,710.0 834.5,710.3 834.9,710.2 835.3,709.9 835.7,710.1 836.1,711.1 836.5,711.0 836.9,708.9 837.3,707.0 837.7,708.9 838.1,710.2 838.5,709.8 838.9,711.2 839.3,711.0 839.7,710.1 840.1,709.9 840.5,710.2 840.9,709.7 841.3,710.2 841.7,711.2 842.1,710.9 842.5,709.7 842.9,710.0 843.3,709.9 843.7,710.2 844.1,710.2 844.5,711.1 844.9,710.9 845.3,710.1 845.7,710.2 846.1,710.3 846.5,710.2 846.9,710.0 847.3,710.8 847.7,711.2 848.1,710.1 848.5,710.1 848.9,710.1 849.3,710.1 849.7,710.3 850.1,710.9 850.5,711.2 850.9,710.3 851.3,709.8 851.7,710.2 852.1,710.1 852.5,710.3 852.9,710.8 853.3,711.2 853.7,709.7 854.1,710.0 854.5,709.7 854.9,709.9 855.3,710.2 855.7,711.0 856.1,711.0 856.5,710.1 857.0,709.6 857.4,701.4 857.8,690.5 858.2,701.4 858.6,711.0 859.0,711.1 859.4,709.8 859.8,710.1 860.2,709.7 860.6,710.2 861.0,709.7 861.4,710.9 861.8,711.0 862.2,710.0 862.6,709.8 863.0,710.2 863.4,710.2 863.8,710.2 864.2,711.0 864.6,711.2 865.0,709.7 865.4,710.2 865.8,710.0 866.2,710.0 866.6,710.1 867.0,710.9 867.4,710.8 867.8,710.3 868.2,709.9 868.6,710.1 869.0,709.9 869.4,710.2 869.8,711.2 870.2,711.0 870.6,710.2 871.0,710.3 871.4,709.6 871.8,709.9 872.2,709.7 872.6,711.0 873.0,710.9 873.4,710.3 873.8,710.1 874.2,710.3 874.6,709.7 875.0,710.0 875.4,711.1 875.8,710.8 876.2,710.1 876.6,710.2 877.0,709.6 877.4,710.3 877.8,709.8 878.2,711.1 878.6,711.0 879.0,709.9 879.4,710.1 879.8,710.1 880.2,710.2 880.6,710.3 881.0,710.8 881.4,710.9 881.8,710.2 882.2,710.3 882.6,709.6 883.1,710.2 883.5,709.7 883.9,711.1 884.3,711.1 884.7,710.1 885.1,709.6 885.5,710.0 885.9,709.8 886.3,710.1 886.7,711.1 887.1,711.1 887.5,709.9 887.9,710.1 888.3,710.2 888.7,710.0 889.1,710.0 889.5,710.8 889.9,710.8 890.3,710.0 890.7,710.1 891.1,710.2 891.5,709.3 891.9,708.0 892.3,709.3 892.7,710.9 893.1,710.0 893.5,710.3 893.9,709.7 894.3,710.3 894.7,709.6 895.1,710.8 895.5,710.8 895.9,710.0 896.3,709.7 896.7,710.3 897.1,709.9 897.5,710.1 897.9,711.1 898.3,710.8 898.7,709.7 899.1,709.9 899.5,709.8 899.9,710.0 900.3,709.6 900.7,710.9 901.1,711.1 901.5,710.0 901.9,709.9 902.3,710.3 902.7,709.9 903.1,710.0 903.5,710.9 903.9,711.0 904.3,709.7 904.7,710.1 905.1,710.3 905.5,710.1 905.9,710.1 906.3,711.1 906.7,711.1 907.1,710.2 907.5,709.7 907.9,710.1 908.3,710.1 908.7,710.0 909.2,711.2 909.6,711.2 910.0,709.7 910.4,710.1 910.8,709.8 911.2,710.1 911.6,709.9 912.0,711.2 912.4,710.9 912.8,710.3 913.2,709.8 913.6,710.1 914.0,709.9 914.4,710.1 914.8,710.9 915.2,710.8 915.6,710.3 916.0,710.0 916.4,709.7 916.8,710.1 917.2,710.2 917.6,711.2 918.0,711.1 918.4,710.1 918.8,710.3 919.2,710.0 919.6,709.9 920.0,710.1 920.4,710.8 920.8,711.1 921.2,710.3 921.6,710.1 922.0,710.2 922.4,710.2 922.8,709.7 923.2,711.1 923.6,711.1 924.0,710.2 924.4,710.0 924.8,710.1 925.2,710.3 925.6,710.2 926.0,711.2 926.4,711.1 926.8,709.7 927.2,710.2 927.6,709.8 928.0,710.0 928.4,709.8 928.8,711.0 929.2,710.8 929.6,710.3 930.0,709.7 930.4,709.9 930.8,710.1 931.2,710.0 931.6,710.9 932.0,711.0 932.4,709.7 932.8,710.2 933.2,709.9 933.6,710.2 934.0,710.0 934.4,710.8 934.8,710.9 935.2,710.2 935.7,709.7 936.1,710.3 936.5,709.8 936.9,710.3 937.3,711.2 937.7,710.8 938.1,710.3 938.5,710.3 938.9,709.6 939.3,710.1 939.7,709.7 940.1,711.0 940.5,710.8 940.9,710.2 941.3,710.0 941.7,709.9 942.1,710.2 942.5,710.2 942.9,711.1 943.3,710.8 943.7,709.6 944.1,710.2 944.5,709.9 944.9,710.1 945.3,709.7 945.7,710.8 946.1,711.1 946.5,710.3 946.9,709.8 947.3,710.3 947.7,709.8 948.1,710.3 948.5,710.9" fill="none" stroke="#0a8ac6" stroke-width="1.9" stroke-linejoin="round"/><path d="M978.0,703.7 978.4,702.0 978.8,703.2 979.2,701.1 979.6,703.4 980.0,709.9 980.4,707.6 980.8,703.1 981.2,702.9 981.6,702.4 982.0,703.0 982.4,704.6 982.8,708.8 983.2,708.2 983.6,703.9 984.0,702.7 984.4,705.2 984.8,704.1 985.2,704.5 985.6,709.9 986.0,709.5 986.4,704.4 986.8,703.2 987.2,704.5 987.6,703.7 988.0,704.5 988.4,707.6 988.8,709.8 989.2,704.7 989.6,704.1 990.0,702.8 990.4,701.4 990.8,704.5 991.3,710.0 991.7,708.9 992.1,702.2 992.5,704.7 992.9,701.1 993.3,703.5 993.7,701.0 994.1,709.8 994.5,708.3 994.9,704.3 995.3,704.4 995.7,704.9 996.1,704.8 996.5,704.5 996.9,709.1 997.3,707.6 997.7,702.2 998.1,704.4 998.5,703.8 998.9,703.2 999.3,703.0 999.7,708.4 1000.1,708.8 1000.5,703.5 1000.9,704.8 1001.3,702.8 1001.7,704.9 1002.1,703.4 1002.5,711.4 1002.9,710.6 1003.3,704.8 1003.7,707.3 1004.1,705.6 1004.5,708.2 1004.9,707.8 1005.3,711.0 1005.7,711.4 1006.1,707.7 1006.5,704.9 1006.9,705.9 1007.3,704.1 1007.7,707.4 1008.1,711.4 1008.5,708.9 1008.9,701.8 1009.3,705.0 1009.7,701.9 1010.1,703.2 1010.5,701.5 1010.9,707.7 1011.3,710.0 1011.7,705.0 1012.1,703.6 1012.5,703.7 1012.9,701.2 1013.3,704.4 1013.7,709.9 1014.1,708.9 1014.5,703.7 1014.9,704.4 1015.3,704.3 1015.7,705.0 1016.1,704.4 1016.5,709.3 1016.9,710.1 1017.3,704.8 1017.8,704.8 1018.2,702.8 1018.6,702.8 1019.0,704.2 1019.4,708.2 1019.8,709.1 1020.2,701.6 1020.6,704.1 1021.0,703.3 1021.4,705.1 1021.8,701.2 1022.2,707.7 1022.6,708.8 1023.0,703.1 1023.4,704.5 1023.8,703.4 1024.2,701.1 1024.6,703.7 1025.0,709.6 1025.4,707.8 1025.8,703.2 1026.2,704.9 1026.6,701.5 1027.0,704.5 1027.4,703.2 1027.8,710.1 1028.2,709.7 1028.6,702.8 1029.0,703.2 1029.4,704.0 1029.8,702.0 1030.2,704.0 1030.6,708.3 1031.0,708.6 1031.4,704.4 1031.8,704.3 1032.2,700.9 1032.6,702.8 1033.0,702.4 1033.4,708.8 1033.8,708.4 1034.2,705.0 1034.6,703.9 1035.0,703.3 1035.4,701.4 1035.8,704.3 1036.2,709.6 1036.6,709.5 1037.0,702.2 1037.4,703.6 1037.8,701.9 1038.2,704.3 1038.6,702.1 1039.0,708.3 1039.4,708.8 1039.8,703.3 1040.2,702.2 1040.6,704.5 1041.0,701.1 1041.4,703.6 1041.8,709.0 1042.2,707.6 1042.6,702.8 1043.0,704.6 1043.4,702.3 1043.9,704.1 1044.3,701.7 1044.7,709.2 1045.1,709.6 1045.5,704.4 1045.9,702.4 1046.3,703.4 1046.7,701.6 1047.1,704.4 1047.5,709.7 1047.9,709.8 1048.3,702.2 1048.7,702.8 1049.1,701.1 1049.5,703.9 1049.9,702.8 1050.3,708.0 1050.7,709.7 1051.1,702.9 1051.5,703.1 1051.9,703.5 1052.3,702.1 1052.7,703.4 1053.1,708.0 1053.5,709.5 1053.9,702.6 1054.3,703.6 1054.7,703.3 1055.1,703.7 1055.5,701.8 1055.9,709.2 1056.3,709.4 1056.7,705.2 1057.1,704.4 1057.5,704.1 1057.9,702.3 1058.3,704.7 1058.7,709.3 1059.1,709.2 1059.5,704.9 1059.9,704.1 1060.3,704.1 1060.7,705.1 1061.1,704.5 1061.5,708.4 1061.9,708.0 1062.3,704.7 1062.7,704.9 1063.1,704.1 1063.5,703.5 1063.9,703.7 1064.3,709.1 1064.7,708.2 1065.1,701.3 1065.5,705.2 1065.9,703.4 1066.3,704.5 1066.7,703.3 1067.1,707.9 1067.5,709.7 1067.9,704.3 1068.3,704.9 1068.7,703.7 1069.1,704.6 1069.5,703.9 1070.0,708.4 1070.4,709.0 1070.8,701.1 1071.2,703.2 1071.6,703.3 1072.0,703.2 1072.4,702.4 1072.8,708.5 1073.2,707.9 1073.6,703.7 1074.0,702.7 1074.4,702.8 1074.8,701.0 1075.2,703.7 1075.6,708.5 1076.0,709.8 1076.4,705.0 1076.8,705.0 1077.2,702.7 1077.6,703.7 1078.0,704.5 1078.4,709.2 1078.8,709.8 1079.2,704.3 1079.6,703.3 1080.0,704.7 1080.4,703.8 1080.8,702.8 1081.2,708.5 1081.6,710.0 1082.0,701.3 1082.4,703.7 1082.8,704.0 1083.2,702.8 1083.6,703.0 1084.0,708.6 1084.4,708.4 1084.8,702.8 1085.2,703.0 1085.6,704.5 1086.0,703.1 1086.4,704.9 1086.8,709.1 1087.2,708.7 1087.6,703.8 1088.0,703.3 1088.4,701.6 1088.8,705.2 1089.2,702.8 1089.6,708.3 1090.0,709.9 1090.4,703.3 1090.8,704.0 1091.2,704.6 1091.6,704.4 1092.0,702.8 1092.4,708.3 1092.8,709.1 1093.2,703.1 1093.6,703.6 1094.0,702.5 1094.4,703.4 1094.8,704.5 1095.2,709.5 1095.6,708.3 1096.0,703.9 1096.5,703.6 1096.9,704.4 1097.3,702.8 1097.7,704.0 1098.1,708.4 1098.5,709.4 1098.9,702.5 1099.3,705.1 1099.7,703.9 1100.1,704.0 1100.5,701.1 1100.9,709.7 1101.3,708.8 1101.7,705.1 1102.1,701.7 1102.5,704.0 1102.9,702.5 1103.3,703.3 1103.7,709.0 1104.1,708.6 1104.5,701.1 1104.9,704.1 1105.3,703.2 1105.7,702.9 1106.1,704.0 1106.5,708.1 1106.9,709.5 1107.3,704.9 1107.7,701.4 1108.1,703.3 1108.5,703.0 1108.9,704.3 1109.3,709.3 1109.7,709.6 1110.1,704.2 1110.5,703.8 1110.9,702.5 1111.3,703.7 1111.7,703.4 1112.1,707.7 1112.5,708.8 1112.9,702.9 1113.3,704.5 1113.7,704.4 1114.1,701.4 1114.5,703.0 1114.9,708.9 1115.3,707.3 1115.7,701.7 1116.1,702.5 1116.5,700.6 1116.9,703.1 1117.3,704.5 1117.7,709.4 1118.1,707.8 1118.5,703.3 1118.9,700.7 1119.3,703.1 1119.7,704.1 1120.1,704.1 1120.5,709.5 1120.9,707.6 1121.3,702.1 1121.7,703.8 1122.1,704.0 1122.6,703.3 1123.0,704.4 1123.4,707.4 1123.8,708.1 1124.2,704.6 1124.6,704.4 1125.0,703.3 1125.4,701.5 1125.8,702.6 1126.2,707.4 1126.6,708.2 1127.0,703.3 1127.4,703.2 1127.8,702.5 1128.2,702.4 1128.6,703.0 1129.0,707.2 1129.4,708.8 1129.8,704.3 1130.2,701.9 1130.6,703.4 1131.0,700.7 1131.4,703.3 1131.8,708.6 1132.2,707.7 1132.6,702.2 1133.0,704.0 1133.4,701.4 1133.8,703.4 1134.2,703.9 1134.6,707.6 1135.0,707.9 1135.4,702.8 1135.8,703.7 1136.2,702.8 1136.6,701.7 1137.0,704.4 1137.4,708.6 1137.8,707.2 1138.2,703.9 1138.6,703.1 1139.0,703.4 1139.4,702.4 1139.8,702.4 1140.2,707.7 1140.6,708.9 1141.0,704.5 1141.4,701.4 1141.8,704.4 1142.2,703.7 1142.6,702.2 1143.0,708.6 1143.4,707.4 1143.8,703.8 1144.2,702.1 1144.6,701.6 1145.0,702.4 1145.4,703.7 1145.8,708.4 1146.2,711.4 1146.6,707.6 1147.0,706.7 1147.4,706.7 1147.8,706.6 1148.2,707.3 1148.7,710.9 1149.1,711.4 1149.5,705.4 1149.9,706.2 1150.3,706.2 1150.7,706.1 1151.1,705.9 1151.5,711.4 1151.9,711.4 1152.3,706.4 1152.7,699.7 1153.1,701.8 1153.5,701.7 1153.9,701.4 1154.3,705.3 1154.7,708.1 1155.1,699.2 1155.5,699.6 1155.9,701.8 1156.3,700.5 1156.7,697.0 1157.1,707.1 1157.5,706.5 1157.9,700.5 1158.3,701.2 1158.7,701.5 1159.1,700.9 1159.5,700.8 1159.9,706.3 1160.3,708.0 1160.7,700.9 1161.1,701.2 1161.5,700.2 1161.9,701.4 1162.3,700.2 1162.7,705.8 1163.1,706.6 1163.5,701.8 1163.9,696.7 1164.3,700.7 1164.7,696.6 1165.1,699.7 1165.5,707.2 1165.9,706.5 1166.3,696.6 1166.7,701.5 1167.1,698.0 1167.5,700.9 1167.9,698.0 1168.3,707.3 1168.7,705.5 1169.1,701.2 1169.5,701.5 1169.9,701.1 1170.3,701.2 1170.7,700.5 1171.1,708.1 1171.5,706.1 1171.9,699.9 1172.3,700.3 1172.7,700.0 1173.1,699.4 1173.5,697.7 1173.9,705.4 1174.3,705.6 1174.7,699.6 1175.2,696.5 1175.6,699.7 1176.0,696.9 1176.4,690.5 1176.8,696.9 1177.2,705.0 1177.6,697.3 1178.0,700.4 1178.4,701.2 1178.8,699.9 1179.2,696.1 1179.6,706.5 1180.0,705.9 1180.4,701.4 1180.8,701.1 1181.2,698.8 1181.6,698.8 1182.0,698.6 1182.4,704.9 1182.8,705.5 1183.2,701.1 1183.6,700.4 1184.0,701.1 1184.4,698.2 1184.8,693.5 1185.2,698.2 1185.6,704.9 1186.0,701.5 1186.4,696.1 1186.8,701.0 1187.2,698.6 1187.6,700.3 1188.0,706.4 L1188.0,712.0 L978.0,712.0 Z" fill="#e6f2f9"/><path d="M978.0,703.7 978.4,702.0 978.8,703.2 979.2,701.1 979.6,703.4 980.0,709.9 980.4,707.6 980.8,703.1 981.2,702.9 981.6,702.4 982.0,703.0 982.4,704.6 982.8,708.8 983.2,708.2 983.6,703.9 984.0,702.7 984.4,705.2 984.8,704.1 985.2,704.5 985.6,709.9 986.0,709.5 986.4,704.4 986.8,703.2 987.2,704.5 987.6,703.7 988.0,704.5 988.4,707.6 988.8,709.8 989.2,704.7 989.6,704.1 990.0,702.8 990.4,701.4 990.8,704.5 991.3,710.0 991.7,708.9 992.1,702.2 992.5,704.7 992.9,701.1 993.3,703.5 993.7,701.0 994.1,709.8 994.5,708.3 994.9,704.3 995.3,704.4 995.7,704.9 996.1,704.8 996.5,704.5 996.9,709.1 997.3,707.6 997.7,702.2 998.1,704.4 998.5,703.8 998.9,703.2 999.3,703.0 999.7,708.4 1000.1,708.8 1000.5,703.5 1000.9,704.8 1001.3,702.8 1001.7,704.9 1002.1,703.4 1002.5,711.4 1002.9,710.6 1003.3,704.8 1003.7,707.3 1004.1,705.6 1004.5,708.2 1004.9,707.8 1005.3,711.0 1005.7,711.4 1006.1,707.7 1006.5,704.9 1006.9,705.9 1007.3,704.1 1007.7,707.4 1008.1,711.4 1008.5,708.9 1008.9,701.8 1009.3,705.0 1009.7,701.9 1010.1,703.2 1010.5,701.5 1010.9,707.7 1011.3,710.0 1011.7,705.0 1012.1,703.6 1012.5,703.7 1012.9,701.2 1013.3,704.4 1013.7,709.9 1014.1,708.9 1014.5,703.7 1014.9,704.4 1015.3,704.3 1015.7,705.0 1016.1,704.4 1016.5,709.3 1016.9,710.1 1017.3,704.8 1017.8,704.8 1018.2,702.8 1018.6,702.8 1019.0,704.2 1019.4,708.2 1019.8,709.1 1020.2,701.6 1020.6,704.1 1021.0,703.3 1021.4,705.1 1021.8,701.2 1022.2,707.7 1022.6,708.8 1023.0,703.1 1023.4,704.5 1023.8,703.4 1024.2,701.1 1024.6,703.7 1025.0,709.6 1025.4,707.8 1025.8,703.2 1026.2,704.9 1026.6,701.5 1027.0,704.5 1027.4,703.2 1027.8,710.1 1028.2,709.7 1028.6,702.8 1029.0,703.2 1029.4,704.0 1029.8,702.0 1030.2,704.0 1030.6,708.3 1031.0,708.6 1031.4,704.4 1031.8,704.3 1032.2,700.9 1032.6,702.8 1033.0,702.4 1033.4,708.8 1033.8,708.4 1034.2,705.0 1034.6,703.9 1035.0,703.3 1035.4,701.4 1035.8,704.3 1036.2,709.6 1036.6,709.5 1037.0,702.2 1037.4,703.6 1037.8,701.9 1038.2,704.3 1038.6,702.1 1039.0,708.3 1039.4,708.8 1039.8,703.3 1040.2,702.2 1040.6,704.5 1041.0,701.1 1041.4,703.6 1041.8,709.0 1042.2,707.6 1042.6,702.8 1043.0,704.6 1043.4,702.3 1043.9,704.1 1044.3,701.7 1044.7,709.2 1045.1,709.6 1045.5,704.4 1045.9,702.4 1046.3,703.4 1046.7,701.6 1047.1,704.4 1047.5,709.7 1047.9,709.8 1048.3,702.2 1048.7,702.8 1049.1,701.1 1049.5,703.9 1049.9,702.8 1050.3,708.0 1050.7,709.7 1051.1,702.9 1051.5,703.1 1051.9,703.5 1052.3,702.1 1052.7,703.4 1053.1,708.0 1053.5,709.5 1053.9,702.6 1054.3,703.6 1054.7,703.3 1055.1,703.7 1055.5,701.8 1055.9,709.2 1056.3,709.4 1056.7,705.2 1057.1,704.4 1057.5,704.1 1057.9,702.3 1058.3,704.7 1058.7,709.3 1059.1,709.2 1059.5,704.9 1059.9,704.1 1060.3,704.1 1060.7,705.1 1061.1,704.5 1061.5,708.4 1061.9,708.0 1062.3,704.7 1062.7,704.9 1063.1,704.1 1063.5,703.5 1063.9,703.7 1064.3,709.1 1064.7,708.2 1065.1,701.3 1065.5,705.2 1065.9,703.4 1066.3,704.5 1066.7,703.3 1067.1,707.9 1067.5,709.7 1067.9,704.3 1068.3,704.9 1068.7,703.7 1069.1,704.6 1069.5,703.9 1070.0,708.4 1070.4,709.0 1070.8,701.1 1071.2,703.2 1071.6,703.3 1072.0,703.2 1072.4,702.4 1072.8,708.5 1073.2,707.9 1073.6,703.7 1074.0,702.7 1074.4,702.8 1074.8,701.0 1075.2,703.7 1075.6,708.5 1076.0,709.8 1076.4,705.0 1076.8,705.0 1077.2,702.7 1077.6,703.7 1078.0,704.5 1078.4,709.2 1078.8,709.8 1079.2,704.3 1079.6,703.3 1080.0,704.7 1080.4,703.8 1080.8,702.8 1081.2,708.5 1081.6,710.0 1082.0,701.3 1082.4,703.7 1082.8,704.0 1083.2,702.8 1083.6,703.0 1084.0,708.6 1084.4,708.4 1084.8,702.8 1085.2,703.0 1085.6,704.5 1086.0,703.1 1086.4,704.9 1086.8,709.1 1087.2,708.7 1087.6,703.8 1088.0,703.3 1088.4,701.6 1088.8,705.2 1089.2,702.8 1089.6,708.3 1090.0,709.9 1090.4,703.3 1090.8,704.0 1091.2,704.6 1091.6,704.4 1092.0,702.8 1092.4,708.3 1092.8,709.1 1093.2,703.1 1093.6,703.6 1094.0,702.5 1094.4,703.4 1094.8,704.5 1095.2,709.5 1095.6,708.3 1096.0,703.9 1096.5,703.6 1096.9,704.4 1097.3,702.8 1097.7,704.0 1098.1,708.4 1098.5,709.4 1098.9,702.5 1099.3,705.1 1099.7,703.9 1100.1,704.0 1100.5,701.1 1100.9,709.7 1101.3,708.8 1101.7,705.1 1102.1,701.7 1102.5,704.0 1102.9,702.5 1103.3,703.3 1103.7,709.0 1104.1,708.6 1104.5,701.1 1104.9,704.1 1105.3,703.2 1105.7,702.9 1106.1,704.0 1106.5,708.1 1106.9,709.5 1107.3,704.9 1107.7,701.4 1108.1,703.3 1108.5,703.0 1108.9,704.3 1109.3,709.3 1109.7,709.6 1110.1,704.2 1110.5,703.8 1110.9,702.5 1111.3,703.7 1111.7,703.4 1112.1,707.7 1112.5,708.8 1112.9,702.9 1113.3,704.5 1113.7,704.4 1114.1,701.4 1114.5,703.0 1114.9,708.9 1115.3,707.3 1115.7,701.7 1116.1,702.5 1116.5,700.6 1116.9,703.1 1117.3,704.5 1117.7,709.4 1118.1,707.8 1118.5,703.3 1118.9,700.7 1119.3,703.1 1119.7,704.1 1120.1,704.1 1120.5,709.5 1120.9,707.6 1121.3,702.1 1121.7,703.8 1122.1,704.0 1122.6,703.3 1123.0,704.4 1123.4,707.4 1123.8,708.1 1124.2,704.6 1124.6,704.4 1125.0,703.3 1125.4,701.5 1125.8,702.6 1126.2,707.4 1126.6,708.2 1127.0,703.3 1127.4,703.2 1127.8,702.5 1128.2,702.4 1128.6,703.0 1129.0,707.2 1129.4,708.8 1129.8,704.3 1130.2,701.9 1130.6,703.4 1131.0,700.7 1131.4,703.3 1131.8,708.6 1132.2,707.7 1132.6,702.2 1133.0,704.0 1133.4,701.4 1133.8,703.4 1134.2,703.9 1134.6,707.6 1135.0,707.9 1135.4,702.8 1135.8,703.7 1136.2,702.8 1136.6,701.7 1137.0,704.4 1137.4,708.6 1137.8,707.2 1138.2,703.9 1138.6,703.1 1139.0,703.4 1139.4,702.4 1139.8,702.4 1140.2,707.7 1140.6,708.9 1141.0,704.5 1141.4,701.4 1141.8,704.4 1142.2,703.7 1142.6,702.2 1143.0,708.6 1143.4,707.4 1143.8,703.8 1144.2,702.1 1144.6,701.6 1145.0,702.4 1145.4,703.7 1145.8,708.4 1146.2,711.4 1146.6,707.6 1147.0,706.7 1147.4,706.7 1147.8,706.6 1148.2,707.3 1148.7,710.9 1149.1,711.4 1149.5,705.4 1149.9,706.2 1150.3,706.2 1150.7,706.1 1151.1,705.9 1151.5,711.4 1151.9,711.4 1152.3,706.4 1152.7,699.7 1153.1,701.8 1153.5,701.7 1153.9,701.4 1154.3,705.3 1154.7,708.1 1155.1,699.2 1155.5,699.6 1155.9,701.8 1156.3,700.5 1156.7,697.0 1157.1,707.1 1157.5,706.5 1157.9,700.5 1158.3,701.2 1158.7,701.5 1159.1,700.9 1159.5,700.8 1159.9,706.3 1160.3,708.0 1160.7,700.9 1161.1,701.2 1161.5,700.2 1161.9,701.4 1162.3,700.2 1162.7,705.8 1163.1,706.6 1163.5,701.8 1163.9,696.7 1164.3,700.7 1164.7,696.6 1165.1,699.7 1165.5,707.2 1165.9,706.5 1166.3,696.6 1166.7,701.5 1167.1,698.0 1167.5,700.9 1167.9,698.0 1168.3,707.3 1168.7,705.5 1169.1,701.2 1169.5,701.5 1169.9,701.1 1170.3,701.2 1170.7,700.5 1171.1,708.1 1171.5,706.1 1171.9,699.9 1172.3,700.3 1172.7,700.0 1173.1,699.4 1173.5,697.7 1173.9,705.4 1174.3,705.6 1174.7,699.6 1175.2,696.5 1175.6,699.7 1176.0,696.9 1176.4,690.5 1176.8,696.9 1177.2,705.0 1177.6,697.3 1178.0,700.4 1178.4,701.2 1178.8,699.9 1179.2,696.1 1179.6,706.5 1180.0,705.9 1180.4,701.4 1180.8,701.1 1181.2,698.8 1181.6,698.8 1182.0,698.6 1182.4,704.9 1182.8,705.5 1183.2,701.1 1183.6,700.4 1184.0,701.1 1184.4,698.2 1184.8,693.5 1185.2,698.2 1185.6,704.9 1186.0,701.5 1186.4,696.1 1186.8,701.0 1187.2,698.6 1187.6,700.3 1188.0,706.4" fill="none" stroke="#0a8ac6" stroke-width="1.9" stroke-linejoin="round"/><path d="M1216.0,707.7 1216.4,706.9 1216.8,708.1 1217.2,708.0 1217.6,708.7 1218.0,710.7 1218.4,710.4 1218.8,707.0 1219.2,708.2 1219.6,706.9 1220.0,708.3 1220.4,706.9 1220.8,710.8 1221.2,710.4 1221.6,708.0 1222.0,707.1 1222.4,708.4 1222.8,707.4 1223.2,707.6 1223.6,710.2 1224.0,710.9 1224.4,707.1 1224.8,707.6 1225.2,707.8 1225.6,708.5 1226.0,706.8 1226.4,710.9 1226.8,710.4 1227.2,708.5 1227.6,708.1 1228.0,707.8 1228.4,707.9 1228.8,707.4 1229.3,710.6 1229.7,710.1 1230.1,707.1 1230.5,708.1 1230.9,706.5 1231.3,707.4 1231.7,707.4 1232.1,710.7 1232.5,710.7 1232.9,707.5 1233.3,706.4 1233.7,708.6 1234.1,707.7 1234.5,707.8 1234.9,710.2 1235.3,710.6 1235.7,708.3 1236.1,707.4 1236.5,707.3 1236.9,708.4 1237.3,707.0 1237.7,710.2 1238.1,710.1 1238.5,707.9 1238.9,708.2 1239.3,708.3 1239.7,706.6 1240.1,707.6 1240.5,709.8 1240.9,710.8 1241.3,708.4 1241.7,708.1 1242.1,706.5 1242.5,707.7 1242.9,707.8 1243.3,710.3 1243.7,710.3 1244.1,708.4 1244.5,706.2 1244.9,708.5 1245.3,707.5 1245.7,707.5 1246.1,710.3 1246.5,711.1 1246.9,707.9 1247.3,707.2 1247.7,706.4 1248.1,707.6 1248.5,706.4 1248.9,710.4 1249.3,710.9 1249.7,707.5 1250.1,707.3 1250.5,707.9 1250.9,706.8 1251.3,708.0 1251.7,709.9 1252.1,710.8 1252.5,707.8 1252.9,707.8 1253.3,706.6 1253.7,708.3 1254.1,708.4 1254.5,710.0 1254.9,710.6 1255.3,708.0 1255.8,707.8 1256.2,707.9 1256.6,706.3 1257.0,708.1 1257.4,710.4 1257.8,711.0 1258.2,707.0 1258.6,708.1 1259.0,707.3 1259.4,707.8 1259.8,708.1 1260.2,710.3 1260.6,710.2 1261.0,707.4 1261.4,707.6 1261.8,707.6 1262.2,706.1 1262.6,707.2 1263.0,710.3 1263.4,710.6 1263.8,707.6 1264.2,707.9 1264.6,707.2 1265.0,707.4 1265.4,706.2 1265.8,710.2 1266.2,709.8 1266.6,707.8 1267.0,708.2 1267.4,708.4 1267.8,706.5 1268.2,708.3 1268.6,710.8 1269.0,710.3 1269.4,706.1 1269.8,707.2 1270.2,708.2 1270.6,708.2 1271.0,706.1 1271.4,710.6 1271.8,710.4 1272.2,707.3 1272.6,706.4 1273.0,707.7 1273.4,707.2 1273.8,708.3 1274.2,710.3 1274.6,710.0 1275.0,706.8 1275.4,707.6 1275.8,708.0 1276.2,707.5 1276.6,708.1 1277.0,709.9 1277.4,710.7 1277.8,707.7 1278.2,706.1 1278.6,707.5 1279.0,706.6 1279.4,708.2 1279.8,711.0 1280.2,709.9 1280.6,706.8 1281.0,707.1 1281.4,706.1 1281.9,704.5 1282.3,699.5 1282.7,704.5 1283.1,710.9 1283.5,708.2 1283.9,706.0 1284.3,707.1 1284.7,707.2 1285.1,707.2 1285.5,710.4 1285.9,710.2 1286.3,706.5 1286.7,708.3 1287.1,706.3 1287.5,706.9 1287.9,707.6 1288.3,711.1 1288.7,709.9 1289.1,707.1 1289.5,707.6 1289.9,706.9 1290.3,707.2 1290.7,707.0 1291.1,709.8 1291.5,709.9 1291.9,706.2 1292.3,707.4 1292.7,706.9 1293.1,708.3 1293.5,707.8 1293.9,710.3 1294.3,709.8 1294.7,706.9 1295.1,706.3 1295.5,706.9 1295.9,706.5 1296.3,707.8 1296.7,709.9 1297.1,710.8 1297.5,707.9 1297.9,707.5 1298.3,707.1 1298.7,707.6 1299.1,708.0 1299.5,706.0 1299.9,703.0 1300.3,706.0 1300.7,706.9 1301.1,708.1 1301.5,707.5 1301.9,708.1 1302.3,710.6 1302.7,710.3 1303.1,707.6 1303.5,708.0 1303.9,706.8 1304.3,706.9 1304.7,707.1 1305.1,710.0 1305.5,710.2 1305.9,707.9 1306.3,706.7 1306.7,707.1 1307.1,706.7 1307.5,708.0 1308.0,710.2 1308.4,710.3 1308.8,707.0 1309.2,707.7 1309.6,705.6 1310.0,707.4 1310.4,706.5 1310.8,710.8 1311.2,710.7 1311.6,707.0 1312.0,707.2 1312.4,706.2 1312.8,703.5 1313.2,706.2 1313.6,710.7 1314.0,710.3 1314.4,708.0 1314.8,708.2 1315.2,706.2 1315.6,708.1 1316.0,706.3 1316.4,709.9 1316.8,710.3 1317.2,708.2 1317.6,706.7 1318.0,707.0 1318.4,707.5 1318.8,707.4 1319.2,711.2 1319.6,710.2 1320.0,706.9 1320.4,707.1 1320.8,705.5 1321.2,702.0 1321.6,705.5 1322.0,709.9 1322.4,709.9 1322.8,706.7 1323.2,708.0 1323.6,706.8 1324.0,706.1 1324.4,707.1 1324.8,710.9 1325.2,710.7 1325.6,707.3 1326.0,707.5 1326.4,707.6 1326.8,706.8 1327.2,706.0 1327.6,711.0 1328.0,710.0 1328.4,707.3 1328.8,707.4 1329.2,706.9 1329.6,706.1 1330.0,706.6 1330.4,710.8 1330.8,710.8 1331.2,706.0 1331.6,708.0 1332.0,706.5 1332.4,708.1 1332.8,707.1 1333.2,709.9 1333.6,711.2 1334.0,708.1 1334.5,705.6 1334.9,706.6 1335.3,706.9 1335.7,706.8 1336.1,709.8 1336.5,709.9 1336.9,708.0 1337.3,708.0 1337.7,708.0 1338.1,706.8 1338.5,707.8 1338.9,710.7 1339.3,710.1 1339.7,707.9 1340.1,706.9 1340.5,707.8 1340.9,705.4 1341.3,707.5 1341.7,710.7 1342.1,710.6 1342.5,706.3 1342.9,707.4 1343.3,707.3 1343.7,707.9 1344.1,705.6 1344.5,710.0 1344.9,710.4 1345.3,706.8 1345.7,704.8 1346.1,700.5 1346.5,704.8 1346.9,707.3 1347.3,709.9 1347.7,710.7 1348.1,706.7 1348.5,706.7 1348.9,706.5 1349.3,707.0 1349.7,705.7 1350.1,710.5 1350.5,711.1 1350.9,706.6 1351.3,707.6 1351.7,706.6 1352.1,705.6 1352.5,706.7 1352.9,710.2 1353.3,710.1 1353.7,707.6 1354.1,707.5 1354.5,705.6 1354.9,707.5 1355.3,707.9 1355.7,710.2 1356.1,709.8 1356.5,707.0 1356.9,705.8 1357.3,706.5 1357.7,707.7 1358.1,707.4 1358.5,705.4 1358.9,702.0 1359.3,705.4 1359.7,707.2 1360.1,705.3 1360.6,707.2 1361.0,705.7 1361.4,710.5 1361.8,710.3 1362.2,706.4 1362.6,705.6 1363.0,707.0 1363.4,705.5 1363.8,706.9 1364.2,711.0 1364.6,709.8 1365.0,707.5 1365.4,707.9 1365.8,706.2 1366.2,706.8 1366.6,707.5 1367.0,710.5 1367.4,709.8 1367.8,706.9 1368.2,705.7 1368.6,707.9 1369.0,705.1 1369.4,706.9 1369.8,709.9 1370.2,710.3 1370.6,707.4 1371.0,706.8 1371.4,705.3 1371.8,707.7 1372.2,707.4 1372.6,710.7 1373.0,711.2 1373.4,706.7 1373.8,706.6 1374.2,707.8 1374.6,706.1 1375.0,707.2 1375.4,711.1 1375.8,710.6 1376.2,705.7 1376.6,706.3 1377.0,706.1 1377.4,706.4 1377.8,707.1 1378.2,709.6 1378.6,711.2 1379.0,707.9 1379.4,702.2 1379.8,695.0 1380.2,702.2 1380.6,707.5 1381.0,710.9 1381.4,710.3 1381.8,706.0 1382.2,707.8 1382.6,705.4 1383.0,707.3 1383.4,705.4 1383.8,709.9 1384.2,710.8 1384.6,703.1 1385.0,697.0 1385.4,703.1 1385.8,706.3 1386.2,706.5 1386.7,709.8 1387.1,710.4 1387.5,707.8 1387.9,706.2 1388.3,704.9 1388.7,706.7 1389.1,706.4 1389.5,709.7 1389.9,709.8 1390.3,706.7 1390.7,705.4 1391.1,706.2 1391.5,705.2 1391.9,707.2 1392.3,710.1 1392.7,710.6 1393.1,706.8 1393.5,707.0 1393.9,705.2 1394.3,707.1 1394.7,704.9 1395.1,710.9 1395.5,709.7 1395.9,706.6 1396.3,705.8 1396.7,706.8 1397.1,707.8 1397.5,706.3 1397.9,710.5 1398.3,710.6 1398.7,707.3 1399.1,707.8 1399.5,707.7 1399.9,707.5 1400.3,706.8 1400.7,709.9 1401.1,709.7 1401.5,706.6 1401.9,705.6 1402.3,706.3 1402.7,707.1 1403.1,706.6 1403.5,710.7 1403.9,709.8 1404.3,705.1 1404.7,707.2 1405.1,707.2 1405.5,707.5 1405.9,704.9 1406.3,710.0 1406.7,710.3 1407.1,706.9 1407.5,706.6 1407.9,700.2 1408.3,690.5 1408.7,700.2 1409.1,710.7 1409.5,710.8 1409.9,705.9 1410.3,707.4 1410.7,705.8 1411.1,706.1 1411.5,706.2 1411.9,710.8 1412.3,711.2 1412.7,707.4 1413.2,706.9 1413.6,706.0 1414.0,706.8 1414.4,707.0 1414.8,710.3 1415.2,711.4 1415.6,706.0 1416.0,706.2 1416.4,707.2 1416.8,707.3 1417.2,704.4 1417.6,700.0 1418.0,704.4 1418.4,706.9 1418.8,707.4 1419.2,707.6 1419.6,706.3 1420.0,706.8 1420.4,709.9 1420.8,710.1 1421.2,707.7 1421.6,707.3 1422.0,706.7 1422.4,707.1 1422.8,705.8 1423.2,711.2 1423.6,711.0 1424.0,706.4 1424.4,706.8 1424.8,706.9 1425.2,705.4 1425.6,706.1 1426.0,710.0 L1426.0,712.0 L1216.0,712.0 Z" fill="#e6f2f9"/><path d="M1216.0,707.7 1216.4,706.9 1216.8,708.1 1217.2,708.0 1217.6,708.7 1218.0,710.7 1218.4,710.4 1218.8,707.0 1219.2,708.2 1219.6,706.9 1220.0,708.3 1220.4,706.9 1220.8,710.8 1221.2,710.4 1221.6,708.0 1222.0,707.1 1222.4,708.4 1222.8,707.4 1223.2,707.6 1223.6,710.2 1224.0,710.9 1224.4,707.1 1224.8,707.6 1225.2,707.8 1225.6,708.5 1226.0,706.8 1226.4,710.9 1226.8,710.4 1227.2,708.5 1227.6,708.1 1228.0,707.8 1228.4,707.9 1228.8,707.4 1229.3,710.6 1229.7,710.1 1230.1,707.1 1230.5,708.1 1230.9,706.5 1231.3,707.4 1231.7,707.4 1232.1,710.7 1232.5,710.7 1232.9,707.5 1233.3,706.4 1233.7,708.6 1234.1,707.7 1234.5,707.8 1234.9,710.2 1235.3,710.6 1235.7,708.3 1236.1,707.4 1236.5,707.3 1236.9,708.4 1237.3,707.0 1237.7,710.2 1238.1,710.1 1238.5,707.9 1238.9,708.2 1239.3,708.3 1239.7,706.6 1240.1,707.6 1240.5,709.8 1240.9,710.8 1241.3,708.4 1241.7,708.1 1242.1,706.5 1242.5,707.7 1242.9,707.8 1243.3,710.3 1243.7,710.3 1244.1,708.4 1244.5,706.2 1244.9,708.5 1245.3,707.5 1245.7,707.5 1246.1,710.3 1246.5,711.1 1246.9,707.9 1247.3,707.2 1247.7,706.4 1248.1,707.6 1248.5,706.4 1248.9,710.4 1249.3,710.9 1249.7,707.5 1250.1,707.3 1250.5,707.9 1250.9,706.8 1251.3,708.0 1251.7,709.9 1252.1,710.8 1252.5,707.8 1252.9,707.8 1253.3,706.6 1253.7,708.3 1254.1,708.4 1254.5,710.0 1254.9,710.6 1255.3,708.0 1255.8,707.8 1256.2,707.9 1256.6,706.3 1257.0,708.1 1257.4,710.4 1257.8,711.0 1258.2,707.0 1258.6,708.1 1259.0,707.3 1259.4,707.8 1259.8,708.1 1260.2,710.3 1260.6,710.2 1261.0,707.4 1261.4,707.6 1261.8,707.6 1262.2,706.1 1262.6,707.2 1263.0,710.3 1263.4,710.6 1263.8,707.6 1264.2,707.9 1264.6,707.2 1265.0,707.4 1265.4,706.2 1265.8,710.2 1266.2,709.8 1266.6,707.8 1267.0,708.2 1267.4,708.4 1267.8,706.5 1268.2,708.3 1268.6,710.8 1269.0,710.3 1269.4,706.1 1269.8,707.2 1270.2,708.2 1270.6,708.2 1271.0,706.1 1271.4,710.6 1271.8,710.4 1272.2,707.3 1272.6,706.4 1273.0,707.7 1273.4,707.2 1273.8,708.3 1274.2,710.3 1274.6,710.0 1275.0,706.8 1275.4,707.6 1275.8,708.0 1276.2,707.5 1276.6,708.1 1277.0,709.9 1277.4,710.7 1277.8,707.7 1278.2,706.1 1278.6,707.5 1279.0,706.6 1279.4,708.2 1279.8,711.0 1280.2,709.9 1280.6,706.8 1281.0,707.1 1281.4,706.1 1281.9,704.5 1282.3,699.5 1282.7,704.5 1283.1,710.9 1283.5,708.2 1283.9,706.0 1284.3,707.1 1284.7,707.2 1285.1,707.2 1285.5,710.4 1285.9,710.2 1286.3,706.5 1286.7,708.3 1287.1,706.3 1287.5,706.9 1287.9,707.6 1288.3,711.1 1288.7,709.9 1289.1,707.1 1289.5,707.6 1289.9,706.9 1290.3,707.2 1290.7,707.0 1291.1,709.8 1291.5,709.9 1291.9,706.2 1292.3,707.4 1292.7,706.9 1293.1,708.3 1293.5,707.8 1293.9,710.3 1294.3,709.8 1294.7,706.9 1295.1,706.3 1295.5,706.9 1295.9,706.5 1296.3,707.8 1296.7,709.9 1297.1,710.8 1297.5,707.9 1297.9,707.5 1298.3,707.1 1298.7,707.6 1299.1,708.0 1299.5,706.0 1299.9,703.0 1300.3,706.0 1300.7,706.9 1301.1,708.1 1301.5,707.5 1301.9,708.1 1302.3,710.6 1302.7,710.3 1303.1,707.6 1303.5,708.0 1303.9,706.8 1304.3,706.9 1304.7,707.1 1305.1,710.0 1305.5,710.2 1305.9,707.9 1306.3,706.7 1306.7,707.1 1307.1,706.7 1307.5,708.0 1308.0,710.2 1308.4,710.3 1308.8,707.0 1309.2,707.7 1309.6,705.6 1310.0,707.4 1310.4,706.5 1310.8,710.8 1311.2,710.7 1311.6,707.0 1312.0,707.2 1312.4,706.2 1312.8,703.5 1313.2,706.2 1313.6,710.7 1314.0,710.3 1314.4,708.0 1314.8,708.2 1315.2,706.2 1315.6,708.1 1316.0,706.3 1316.4,709.9 1316.8,710.3 1317.2,708.2 1317.6,706.7 1318.0,707.0 1318.4,707.5 1318.8,707.4 1319.2,711.2 1319.6,710.2 1320.0,706.9 1320.4,707.1 1320.8,705.5 1321.2,702.0 1321.6,705.5 1322.0,709.9 1322.4,709.9 1322.8,706.7 1323.2,708.0 1323.6,706.8 1324.0,706.1 1324.4,707.1 1324.8,710.9 1325.2,710.7 1325.6,707.3 1326.0,707.5 1326.4,707.6 1326.8,706.8 1327.2,706.0 1327.6,711.0 1328.0,710.0 1328.4,707.3 1328.8,707.4 1329.2,706.9 1329.6,706.1 1330.0,706.6 1330.4,710.8 1330.8,710.8 1331.2,706.0 1331.6,708.0 1332.0,706.5 1332.4,708.1 1332.8,707.1 1333.2,709.9 1333.6,711.2 1334.0,708.1 1334.5,705.6 1334.9,706.6 1335.3,706.9 1335.7,706.8 1336.1,709.8 1336.5,709.9 1336.9,708.0 1337.3,708.0 1337.7,708.0 1338.1,706.8 1338.5,707.8 1338.9,710.7 1339.3,710.1 1339.7,707.9 1340.1,706.9 1340.5,707.8 1340.9,705.4 1341.3,707.5 1341.7,710.7 1342.1,710.6 1342.5,706.3 1342.9,707.4 1343.3,707.3 1343.7,707.9 1344.1,705.6 1344.5,710.0 1344.9,710.4 1345.3,706.8 1345.7,704.8 1346.1,700.5 1346.5,704.8 1346.9,707.3 1347.3,709.9 1347.7,710.7 1348.1,706.7 1348.5,706.7 1348.9,706.5 1349.3,707.0 1349.7,705.7 1350.1,710.5 1350.5,711.1 1350.9,706.6 1351.3,707.6 1351.7,706.6 1352.1,705.6 1352.5,706.7 1352.9,710.2 1353.3,710.1 1353.7,707.6 1354.1,707.5 1354.5,705.6 1354.9,707.5 1355.3,707.9 1355.7,710.2 1356.1,709.8 1356.5,707.0 1356.9,705.8 1357.3,706.5 1357.7,707.7 1358.1,707.4 1358.5,705.4 1358.9,702.0 1359.3,705.4 1359.7,707.2 1360.1,705.3 1360.6,707.2 1361.0,705.7 1361.4,710.5 1361.8,710.3 1362.2,706.4 1362.6,705.6 1363.0,707.0 1363.4,705.5 1363.8,706.9 1364.2,711.0 1364.6,709.8 1365.0,707.5 1365.4,707.9 1365.8,706.2 1366.2,706.8 1366.6,707.5 1367.0,710.5 1367.4,709.8 1367.8,706.9 1368.2,705.7 1368.6,707.9 1369.0,705.1 1369.4,706.9 1369.8,709.9 1370.2,710.3 1370.6,707.4 1371.0,706.8 1371.4,705.3 1371.8,707.7 1372.2,707.4 1372.6,710.7 1373.0,711.2 1373.4,706.7 1373.8,706.6 1374.2,707.8 1374.6,706.1 1375.0,707.2 1375.4,711.1 1375.8,710.6 1376.2,705.7 1376.6,706.3 1377.0,706.1 1377.4,706.4 1377.8,707.1 1378.2,709.6 1378.6,711.2 1379.0,707.9 1379.4,702.2 1379.8,695.0 1380.2,702.2 1380.6,707.5 1381.0,710.9 1381.4,710.3 1381.8,706.0 1382.2,707.8 1382.6,705.4 1383.0,707.3 1383.4,705.4 1383.8,709.9 1384.2,710.8 1384.6,703.1 1385.0,697.0 1385.4,703.1 1385.8,706.3 1386.2,706.5 1386.7,709.8 1387.1,710.4 1387.5,707.8 1387.9,706.2 1388.3,704.9 1388.7,706.7 1389.1,706.4 1389.5,709.7 1389.9,709.8 1390.3,706.7 1390.7,705.4 1391.1,706.2 1391.5,705.2 1391.9,707.2 1392.3,710.1 1392.7,710.6 1393.1,706.8 1393.5,707.0 1393.9,705.2 1394.3,707.1 1394.7,704.9 1395.1,710.9 1395.5,709.7 1395.9,706.6 1396.3,705.8 1396.7,706.8 1397.1,707.8 1397.5,706.3 1397.9,710.5 1398.3,710.6 1398.7,707.3 1399.1,707.8 1399.5,707.7 1399.9,707.5 1400.3,706.8 1400.7,709.9 1401.1,709.7 1401.5,706.6 1401.9,705.6 1402.3,706.3 1402.7,707.1 1403.1,706.6 1403.5,710.7 1403.9,709.8 1404.3,705.1 1404.7,707.2 1405.1,707.2 1405.5,707.5 1405.9,704.9 1406.3,710.0 1406.7,710.3 1407.1,706.9 1407.5,706.6 1407.9,700.2 1408.3,690.5 1408.7,700.2 1409.1,710.7 1409.5,710.8 1409.9,705.9 1410.3,707.4 1410.7,705.8 1411.1,706.1 1411.5,706.2 1411.9,710.8 1412.3,711.2 1412.7,707.4 1413.2,706.9 1413.6,706.0 1414.0,706.8 1414.4,707.0 1414.8,710.3 1415.2,711.4 1415.6,706.0 1416.0,706.2 1416.4,707.2 1416.8,707.3 1417.2,704.4 1417.6,700.0 1418.0,704.4 1418.4,706.9 1418.8,707.4 1419.2,707.6 1419.6,706.3 1420.0,706.8 1420.4,709.9 1420.8,710.1 1421.2,707.7 1421.6,707.3 1422.0,706.7 1422.4,707.1 1422.8,705.8 1423.2,711.2 1423.6,711.0 1424.0,706.4 1424.4,706.8 1424.8,706.9 1425.2,705.4 1425.6,706.1 1426.0,710.0" fill="none" stroke="#0a8ac6" stroke-width="1.9" stroke-linejoin="round"/></svg><!--M1-->
<div class="a" id="botbox"></div>
<div class="a q" id="q1" style="left:1242.7px">Množství</div>
<div class="a q" id="q2" style="left:1313.3px">% Množství</div>
</body>
</html>
